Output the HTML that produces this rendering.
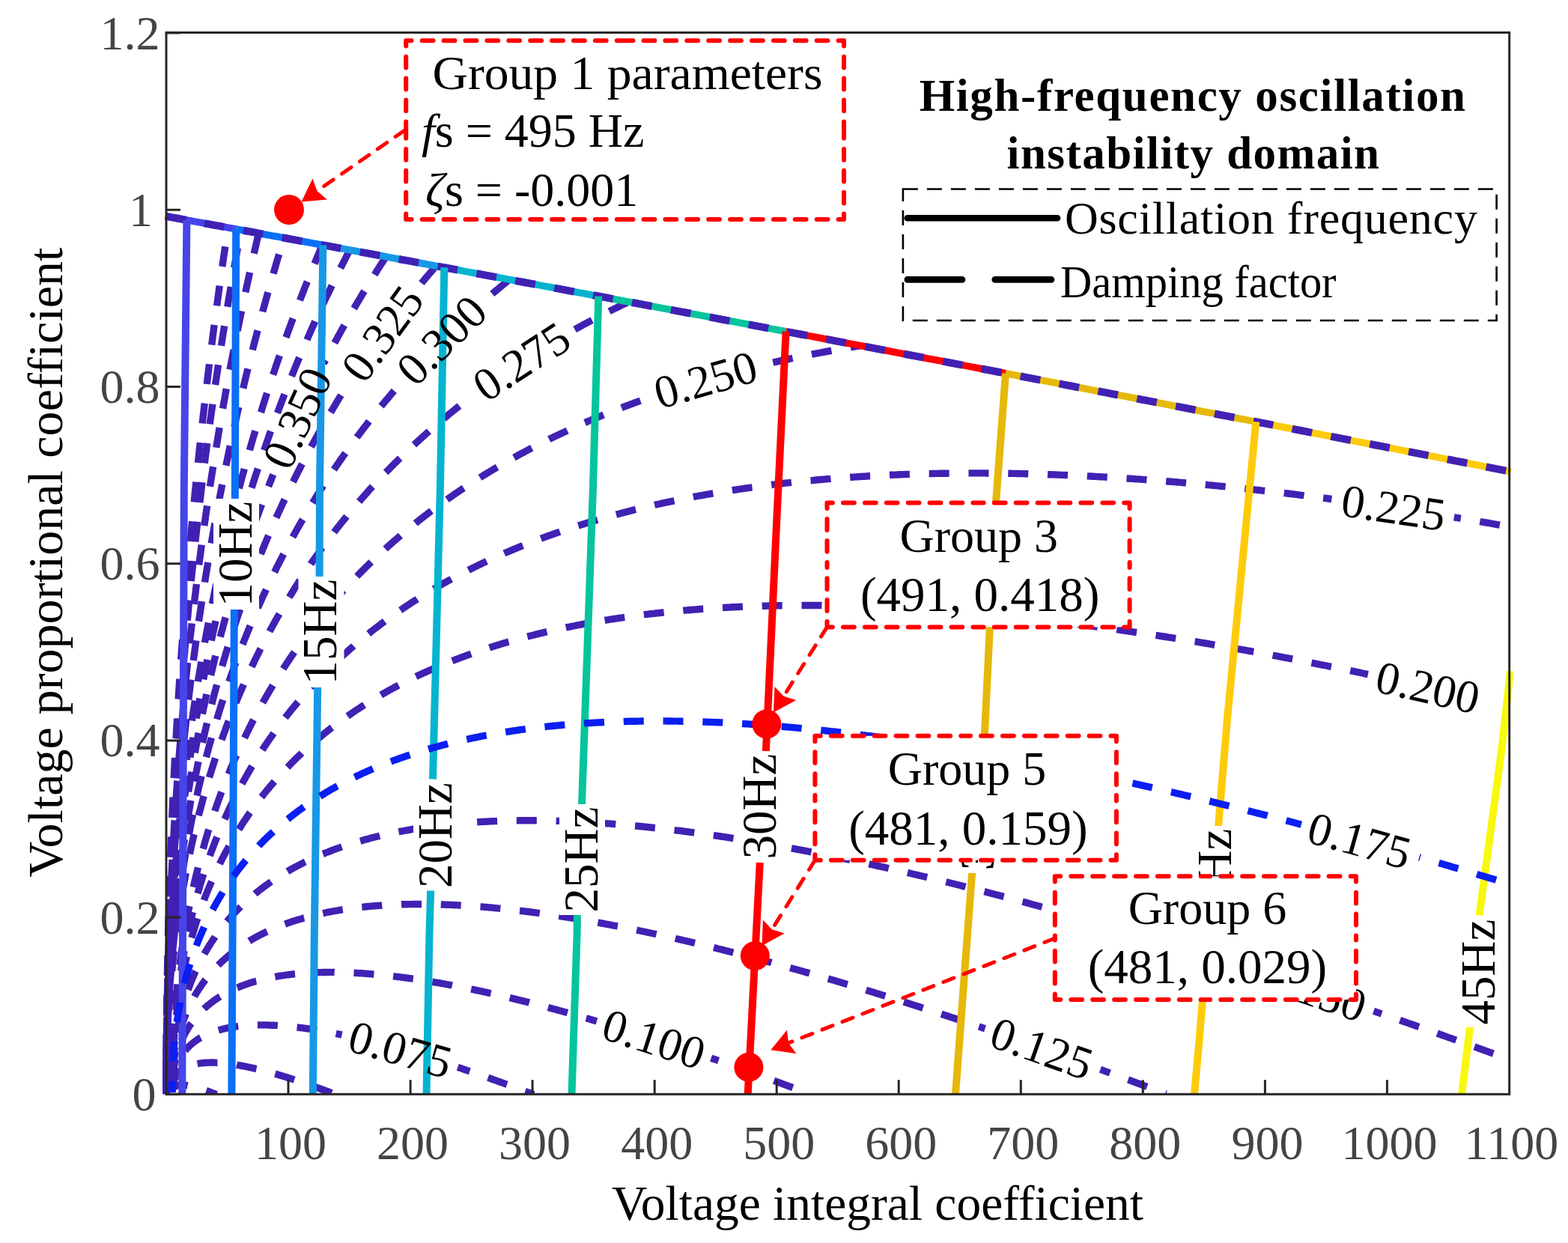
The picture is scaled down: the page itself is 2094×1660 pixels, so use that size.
<!DOCTYPE html>
<html><head><meta charset="utf-8"><title>Oscillation domain</title><style>html,body{margin:0;padding:0;background:#fff;}svg{display:block;}</style></head><body>
<svg width="2094" height="1660" viewBox="0 0 2094 1660">
<rect width="2094" height="1660" fill="#fff"/>
<defs><clipPath id="ax"><rect x="217.0" y="43" width="1803.7" height="1418.3"/></clipPath></defs>
<g clip-path="url(#ax)">
<g fill="none" stroke="#4121b3" stroke-width="9.4" stroke-dasharray="27 25.8">
<path d="M229.7 1459.1L229.7 1458.8L229.7 1458.5L229.7 1458.3L229.7 1458L229.7 1457.8L229.7 1457.6L229.8 1457.3L229.8 1457.1L229.8 1456.9L229.9 1456.6L229.9 1456.4L230 1456.2L230 1456L230.1 1455.8L230.2 1455.5L230.2 1455.3L230.3 1455.1L230.4 1454.9L230.5 1454.7L230.5 1454.5L230.6 1454.4L230.7 1454.2L230.8 1454L230.9 1453.8L231 1453.6L231.2 1453.5L231.3 1453.3L231.4 1453.1L231.5 1453L231.7 1452.8L231.8 1452.6L231.9 1452.5L232.1 1452.3L232.2 1452.2L232.4 1452L232.5 1451.9L232.7 1451.8L232.9 1451.6L233 1451.5L233.2 1451.4L233.4 1451.3L233.6 1451.1L233.8 1451L234 1450.9L234.1 1450.8L234.3 1450.7L234.6 1450.6L234.8 1450.5L235 1450.4L235.2 1450.3L235.4 1450.2L235.7 1450.1L235.9 1450L236.1 1450L236.4 1449.9L236.6 1449.8L236.9 1449.7L237.1 1449.7L237.4 1449.6L237.6 1449.5L237.9 1449.5L238.2 1449.4L238.5 1449.4L238.7 1449.3L239 1449.3L239.3 1449.3L239.6 1449.2L239.9 1449.2L240.2 1449.2L240.5 1449.1L240.8 1449.1L241.1 1449.1L241.5 1449.1L241.8 1449.1L242.1 1449.1L242.5 1449.1L242.8 1449L243.1 1449.1L243.5 1449.1L243.8 1449.1L244.2 1449.1L244.6 1449.1L244.9 1449.1L245.3 1449.1L245.7 1449.1L246 1449.2L246.4 1449.2L246.8 1449.2L247.2 1449.3L247.6 1449.3L248 1449.4L248.4 1449.4L248.8 1449.5L249.2 1449.5L249.7 1449.6L250.1 1449.6L250.5 1449.7L250.9 1449.8L251.4 1449.8L251.8 1449.9L252.3 1450L252.7 1450.1L253.2 1450.2L253.6 1450.2L254.1 1450.3L254.6 1450.4L255 1450.5L255.5 1450.6L256 1450.7L256.5 1450.8L257 1451L257.5 1451.1L258 1451.2L258.5 1451.3L259 1451.4L259.5 1451.6L260 1451.7L260.5 1451.8L261 1452L261.6 1452.1L262.1 1452.3L262.6 1452.4L263.2 1452.6L263.7 1452.7L264.3 1452.9L264.8 1453L265.4 1453.2L266 1453.4L266.5 1453.5L267.1 1453.7L267.7 1453.9L268.3 1454.1L268.9 1454.3L269.5 1454.4L270 1454.6L270.6 1454.8L271.3 1455L271.9 1455.2L272.5 1455.4L273.1 1455.6L273.7 1455.9L274.3 1456.1L275 1456.3L275.6 1456.5L276.3 1456.7L276.9 1457L277.5 1457.2L278.2 1457.4L278.9 1457.7L279.5 1457.9L280.2 1458.2L280.9 1458.4L281.5 1458.7L282.2 1458.9L282.9 1459.2L283.6 1459.4L284.3 1459.7L285 1460L285.7 1460.2L286.4 1460.5L287.1 1460.8L287.8 1461.1L288.5 1461.4L289.3 1461.7" stroke-dashoffset="0"/>
<path d="M229.7 1459.1L229.7 1458.5L229.7 1458L229.7 1457.5L229.7 1457L229.7 1456.5L229.7 1456L229.8 1455.5L229.8 1455L229.8 1454.5L229.9 1454L229.9 1453.6L230 1453.1L230 1452.6L230.1 1452.1L230.2 1451.7L230.2 1451.2L230.3 1450.7L230.4 1450.3L230.5 1449.8L230.5 1449.4L230.6 1448.9L230.7 1448.5L230.8 1448L230.9 1447.6L231 1447.2L231.2 1446.7L231.3 1446.3L231.4 1445.9L231.5 1445.4L231.7 1445L231.8 1444.6L231.9 1444.2L232.1 1443.8L232.2 1443.4L232.4 1443L232.5 1442.6L232.7 1442.2L232.9 1441.8L233 1441.4L233.2 1441L233.4 1440.6L233.6 1440.3L233.8 1439.9L234 1439.5L234.1 1439.1L234.3 1438.8L234.6 1438.4L234.8 1438.1L235 1437.7L235.2 1437.3L235.4 1437L235.7 1436.6L235.9 1436.3L236.1 1436L236.4 1435.6L236.6 1435.3L236.9 1435L237.1 1434.6L237.4 1434.3L237.6 1434L237.9 1433.7L238.2 1433.4L238.5 1433.1L238.7 1432.8L239 1432.5L239.3 1432.2L239.6 1431.9L239.9 1431.6L240.2 1431.3L240.5 1431L240.8 1430.7L241.1 1430.4L241.5 1430.2L241.8 1429.9L242.1 1429.6L242.5 1429.4L242.8 1429.1L243.1 1428.8L243.5 1428.6L243.8 1428.3L244.2 1428.1L244.6 1427.8L244.9 1427.6L245.3 1427.4L245.7 1427.1L246 1426.9L246.4 1426.7L246.8 1426.4L247.2 1426.2L247.6 1426L248 1425.8L248.4 1425.6L248.8 1425.4L249.2 1425.2L249.7 1425L250.1 1424.8L250.5 1424.6L250.9 1424.4L251.4 1424.2L251.8 1424L252.3 1423.8L252.7 1423.6L253.2 1423.5L253.6 1423.3L254.1 1423.1L254.6 1423L255 1422.8L255.5 1422.6L256 1422.5L256.5 1422.3L257 1422.2L257.5 1422.1L258 1421.9L258.5 1421.8L259 1421.6L259.5 1421.5L260 1421.4L260.5 1421.3L261 1421.1L261.6 1421L262.1 1420.9L262.6 1420.8L263.2 1420.7L263.7 1420.6L264.3 1420.5L264.8 1420.4L265.4 1420.3L266 1420.2L266.5 1420.1L267.1 1420L267.7 1419.9L268.3 1419.9L268.9 1419.8L269.5 1419.7L270 1419.7L270.6 1419.6L271.3 1419.5L271.9 1419.5L272.5 1419.4L273.1 1419.4L273.7 1419.3L274.3 1419.3L275 1419.2L275.6 1419.2L276.3 1419.2L276.9 1419.1L277.5 1419.1L278.2 1419.1L278.9 1419.1L279.5 1419.1L280.2 1419L280.9 1419L281.5 1419L282.2 1419L282.9 1419L283.6 1419L284.3 1419L285 1419L285.7 1419.1L286.4 1419.1L287.1 1419.1L287.8 1419.1L288.5 1419.1L289.3 1419.2L290 1419.2L290.7 1419.2L291.5 1419.3L292.2 1419.3L293 1419.4L293.7 1419.4L294.5 1419.5L295.2 1419.5L296 1419.6L296.8 1419.7L297.5 1419.7L298.3 1419.8L299.1 1419.9L299.9 1419.9L300.7 1420L301.5 1420.1L302.3 1420.2L303.1 1420.3L303.9 1420.4L304.7 1420.5L305.5 1420.6L306.3 1420.7L307.1 1420.8L308 1420.9L308.8 1421L309.7 1421.1L310.5 1421.2L311.3 1421.4L312.2 1421.5L313.1 1421.6L313.9 1421.8L314.8 1421.9L315.7 1422L316.5 1422.2L317.4 1422.3L318.3 1422.5L319.2 1422.6L320.1 1422.8L321 1423L321.9 1423.1L322.8 1423.3L323.7 1423.5L324.6 1423.6L325.5 1423.8L326.5 1424L327.4 1424.2L328.3 1424.4L329.3 1424.6L330.2 1424.8L331.1 1425L332.1 1425.2L333 1425.4L334 1425.6L335 1425.8L335.9 1426L336.9 1426.2L337.9 1426.4L338.9 1426.7L339.9 1426.9L340.8 1427.1L341.8 1427.4L342.8 1427.6L343.8 1427.8L344.9 1428.1L345.9 1428.3L346.9 1428.6L347.9 1428.8L348.9 1429.1L350 1429.4L351 1429.6L352 1429.9L353.1 1430.2L354.1 1430.4L355.2 1430.7L356.2 1431L357.3 1431.3L358.4 1431.6L359.4 1431.9L360.5 1432.2L361.6 1432.5L362.7 1432.8L363.8 1433.1L364.9 1433.4L366 1433.7L367.1 1434L368.2 1434.3L369.3 1434.6L370.4 1435L371.5 1435.3L372.6 1435.6L373.8 1436L374.9 1436.3L376 1436.6L377.2 1437L378.3 1437.3L379.5 1437.7L380.6 1438L381.8 1438.4L382.9 1438.8L384.1 1439.1L385.3 1439.5L386.5 1439.9L387.6 1440.2L388.8 1440.6L390 1441L391.2 1441.4L392.4 1441.8L393.6 1442.2L394.8 1442.6L396 1443L397.2 1443.4L398.5 1443.8L399.7 1444.2L400.9 1444.6L402.2 1445L403.4 1445.4L404.6 1445.8L405.9 1446.3L407.1 1446.7L408.4 1447.1L409.7 1447.6L410.9 1448L412.2 1448.5L413.5 1448.9L414.7 1449.3L416 1449.8L417.3 1450.3L418.6 1450.7L419.9 1451.2L421.2 1451.6L422.5 1452.1L423.8 1452.6L425.1 1453.1L426.4 1453.5L427.8 1454L429.1 1454.5L430.4 1455L431.8 1455.5L433.1 1456L434.4 1456.5L435.8 1457L437.2 1457.5L438.5 1458L439.9 1458.5L441.2 1459L442.6 1459.5L444 1460.1L445.4 1460.6L446.8 1461.1L448.1 1461.7" stroke-dashoffset="48.7"/>
<path d="M229.7 1459.1L229.7 1458.3L229.7 1457.5L229.7 1456.7L229.7 1456L229.7 1455.2L229.7 1454.5L229.8 1453.7L229.8 1452.9L229.8 1452.2L229.9 1451.5L229.9 1450.7L230 1450L230 1449.2L230.1 1448.5L230.2 1447.8L230.2 1447.1L230.3 1446.3L230.4 1445.6L230.5 1444.9L230.5 1444.2L230.6 1443.5L230.7 1442.8L230.8 1442.1L230.9 1441.4L231 1440.7L231.2 1440L231.3 1439.3L231.4 1438.6L231.5 1437.9L231.7 1437.3L231.8 1436.6L231.9 1435.9L232.1 1435.2L232.2 1434.6L232.4 1433.9L232.5 1433.3L232.7 1432.6L232.9 1431.9L233 1431.3L233.2 1430.7L233.4 1430L233.6 1429.4L233.8 1428.7L234 1428.1L234.1 1427.5L234.3 1426.9L234.6 1426.2L234.8 1425.6L235 1425L235.2 1424.4L235.4 1423.8L235.7 1423.2L235.9 1422.6L236.1 1422L236.4 1421.4L236.6 1420.8L236.9 1420.2L237.1 1419.6L237.4 1419L237.6 1418.5L237.9 1417.9L238.2 1417.3L238.5 1416.7L238.7 1416.2L239 1415.6L239.3 1415.1L239.6 1414.5L239.9 1413.9L240.2 1413.4L240.5 1412.9L240.8 1412.3L241.1 1411.8L241.5 1411.2L241.8 1410.7L242.1 1410.2L242.5 1409.7L242.8 1409.1L243.1 1408.6L243.5 1408.1L243.8 1407.6L244.2 1407.1L244.6 1406.6L244.9 1406.1L245.3 1405.6L245.7 1405.1L246 1404.6L246.4 1404.1L246.8 1403.6L247.2 1403.1L247.6 1402.7L248 1402.2L248.4 1401.7L248.8 1401.2L249.2 1400.8L249.7 1400.3L250.1 1399.9L250.5 1399.4L250.9 1399L251.4 1398.5L251.8 1398.1L252.3 1397.6L252.7 1397.2L253.2 1396.7L253.6 1396.3L254.1 1395.9L254.6 1395.5L255 1395L255.5 1394.6L256 1394.2L256.5 1393.8L257 1393.4L257.5 1393L258 1392.6L258.5 1392.2L259 1391.8L259.5 1391.4L260 1391L260.5 1390.6L261 1390.3L261.6 1389.9L262.1 1389.5L262.6 1389.1L263.2 1388.8L263.7 1388.4L264.3 1388L264.8 1387.7L265.4 1387.3L266 1387L266.5 1386.6L267.1 1386.3L267.7 1385.9L268.3 1385.6L268.9 1385.3L269.5 1384.9L270 1384.6L270.6 1384.3L271.3 1384L271.9 1383.7L272.5 1383.3L273.1 1383L273.7 1382.7L274.3 1382.4L275 1382.1L275.6 1381.8L276.3 1381.5L276.9 1381.2L277.5 1381L278.2 1380.7L278.9 1380.4L279.5 1380.1L280.2 1379.8L280.9 1379.6L281.5 1379.3L282.2 1379L282.9 1378.8L283.6 1378.5L284.3 1378.3L285 1378L285.7 1377.8L286.4 1377.5L287.1 1377.3L287.8 1377.1L288.5 1376.8L289.3 1376.6L290 1376.4L290.7 1376.1L291.5 1375.9L292.2 1375.7L293 1375.5L293.7 1375.3L294.5 1375.1L295.2 1374.9L296 1374.7L296.8 1374.5L297.5 1374.3L298.3 1374.1L299.1 1373.9L299.9 1373.7L300.7 1373.5L301.5 1373.4L302.3 1373.2L303.1 1373L303.9 1372.9L304.7 1372.7L305.5 1372.5L306.3 1372.4L307.1 1372.2L308 1372.1L308.8 1371.9L309.7 1371.8L310.5 1371.7L311.3 1371.5L312.2 1371.4L313.1 1371.3L313.9 1371.1L314.8 1371L315.7 1370.9L316.5 1370.8L317.4 1370.7L318.3 1370.6L319.2 1370.5L320.1 1370.4L321 1370.3L321.9 1370.2L322.8 1370.1L323.7 1370L324.6 1369.9L325.5 1369.8L326.5 1369.7L327.4 1369.7L328.3 1369.6L329.3 1369.5L330.2 1369.5L331.1 1369.4L332.1 1369.3L333 1369.3L334 1369.2L335 1369.2L335.9 1369.1L336.9 1369.1L337.9 1369.1L338.9 1369L339.9 1369L340.8 1369L341.8 1368.9L342.8 1368.9L343.8 1368.9L344.9 1368.9L345.9 1368.9L346.9 1368.9L347.9 1368.9L348.9 1368.9L350 1368.9L351 1368.9L352 1368.9L353.1 1368.9L354.1 1368.9L355.2 1368.9L356.2 1368.9L357.3 1369L358.4 1369L359.4 1369L360.5 1369.1L361.6 1369.1L362.7 1369.2L363.8 1369.2L364.9 1369.2L366 1369.3L367.1 1369.4L368.2 1369.4L369.3 1369.5L370.4 1369.5L371.5 1369.6L372.6 1369.7L373.8 1369.8L374.9 1369.8L376 1369.9L377.2 1370L378.3 1370.1L379.5 1370.2L380.6 1370.3L381.8 1370.4L382.9 1370.5L384.1 1370.6L385.3 1370.7L386.5 1370.8L387.6 1370.9L388.8 1371.1L390 1371.2L391.2 1371.3L392.4 1371.4L393.6 1371.6L394.8 1371.7L396 1371.9L397.2 1372L398.5 1372.1L399.7 1372.3L400.9 1372.5L402.2 1372.6L403.4 1372.8L404.6 1372.9L405.9 1373.1L407.1 1373.3L408.4 1373.4L409.7 1373.6L410.9 1373.8L412.2 1374L413.5 1374.2L414.7 1374.4L416 1374.6L417.3 1374.8L418.6 1375L419.9 1375.2L421.2 1375.4L422.5 1375.6L423.8 1375.8L425.1 1376L426.4 1376.2L427.8 1376.5L429.1 1376.7L430.4 1376.9L431.8 1377.2L433.1 1377.4L434.4 1377.6L435.8 1377.9L437.2 1378.1L438.5 1378.4L439.9 1378.6L441.2 1378.9L442.6 1379.2L444 1379.4L445.4 1379.7L446.8 1380L448.1 1380.2L449.5 1380.5L450.9 1380.8L452.3 1381.1L453.7 1381.4L455.2 1381.7L456.6 1382" stroke-dashoffset="45.3"/>
<path d="M611.3 1425.3L613.1 1425.9L615 1426.5L616.8 1427.1L618.7 1427.8L620.6 1428.4L622.4 1429L624.3 1429.7L626.2 1430.3L628 1430.9L629.9 1431.6L631.8 1432.2L633.7 1432.9L635.6 1433.5L637.5 1434.2L639.4 1434.9L641.3 1435.5L643.2 1436.2L645.1 1436.9L647 1437.5L649 1438.2L650.9 1438.9L652.8 1439.6L654.8 1440.3L656.7 1441L658.7 1441.7L660.6 1442.4L662.6 1443.1L664.5 1443.8L666.5 1444.5L668.5 1445.2L670.4 1445.9L672.4 1446.6L674.4 1447.4L676.4 1448.1L678.4 1448.8L680.4 1449.6L682.4 1450.3L684.4 1451L686.4 1451.8L688.4 1452.5L690.4 1453.3L692.5 1454L694.5 1454.8L696.5 1455.5L698.6 1456.3L700.6 1457.1L702.6 1457.8L704.7 1458.6L706.7 1459.4L708.8 1460.2L710.9 1461L712.9 1461.7" stroke-dashoffset="10.1"/>
<path d="M229.7 1459.1L229.7 1458L229.7 1457L229.7 1456L229.7 1454.9L229.7 1453.9L229.7 1452.9L229.8 1451.9L229.8 1450.9L229.8 1449.9L229.9 1448.9L229.9 1447.9L230 1446.9L230 1445.9L230.1 1444.9L230.2 1443.9L230.2 1442.9L230.3 1441.9L230.4 1440.9L230.5 1440L230.5 1439L230.6 1438L230.7 1437.1L230.8 1436.1L230.9 1435.2L231 1434.2L231.2 1433.2L231.3 1432.3L231.4 1431.4L231.5 1430.4L231.7 1429.5L231.8 1428.5L231.9 1427.6L232.1 1426.7L232.2 1425.8L232.4 1424.8L232.5 1423.9L232.7 1423L232.9 1422.1L233 1421.2L233.2 1420.3L233.4 1419.4L233.6 1418.5L233.8 1417.6L234 1416.7L234.1 1415.8L234.3 1414.9L234.6 1414L234.8 1413.2L235 1412.3L235.2 1411.4L235.4 1410.5L235.7 1409.7L235.9 1408.8L236.1 1408L236.4 1407.1L236.6 1406.3L236.9 1405.4L237.1 1404.6L237.4 1403.7L237.6 1402.9L237.9 1402L238.2 1401.2L238.5 1400.4L238.7 1399.6L239 1398.7L239.3 1397.9L239.6 1397.1L239.9 1396.3L240.2 1395.5L240.5 1394.7L240.8 1393.9L241.1 1393.1L241.5 1392.3L241.8 1391.5L242.1 1390.7L242.5 1389.9L242.8 1389.1L243.1 1388.4L243.5 1387.6L243.8 1386.8L244.2 1386L244.6 1385.3L244.9 1384.5L245.3 1383.8L245.7 1383L246 1382.3L246.4 1381.5L246.8 1380.8L247.2 1380L247.6 1379.3L248 1378.5L248.4 1377.8L248.8 1377.1L249.2 1376.4L249.7 1375.6L250.1 1374.9L250.5 1374.2L250.9 1373.5L251.4 1372.8L251.8 1372.1L252.3 1371.4L252.7 1370.7L253.2 1370L253.6 1369.3L254.1 1368.6L254.6 1367.9L255 1367.2L255.5 1366.6L256 1365.9L256.5 1365.2L257 1364.5L257.5 1363.9L258 1363.2L258.5 1362.6L259 1361.9L259.5 1361.3L260 1360.6L260.5 1360L261 1359.3L261.6 1358.7L262.1 1358L262.6 1357.4L263.2 1356.8L263.7 1356.2L264.3 1355.5L264.8 1354.9L265.4 1354.3L266 1353.7L266.5 1353.1L267.1 1352.5L267.7 1351.9L268.3 1351.3L268.9 1350.7L269.5 1350.1L270 1349.5L270.6 1348.9L271.3 1348.3L271.9 1347.8L272.5 1347.2L273.1 1346.6L273.7 1346.1L274.3 1345.5L275 1344.9L275.6 1344.4L276.3 1343.8L276.9 1343.3L277.5 1342.7L278.2 1342.2L278.9 1341.6L279.5 1341.1L280.2 1340.6L280.9 1340L281.5 1339.5L282.2 1339L282.9 1338.5L283.6 1337.9L284.3 1337.4L285 1336.9L285.7 1336.4L286.4 1335.9L287.1 1335.4L287.8 1334.9L288.5 1334.4L289.3 1333.9L290 1333.4L290.7 1332.9L291.5 1332.5L292.2 1332L293 1331.5L293.7 1331L294.5 1330.6L295.2 1330.1L296 1329.7L296.8 1329.2L297.5 1328.7L298.3 1328.3L299.1 1327.8L299.9 1327.4L300.7 1327L301.5 1326.5L302.3 1326.1L303.1 1325.7L303.9 1325.2L304.7 1324.8L305.5 1324.4L306.3 1324L307.1 1323.6L308 1323.1L308.8 1322.7L309.7 1322.3L310.5 1321.9L311.3 1321.5L312.2 1321.2L313.1 1320.8L313.9 1320.4L314.8 1320L315.7 1319.6L316.5 1319.2L317.4 1318.9L318.3 1318.5L319.2 1318.1L320.1 1317.8L321 1317.4L321.9 1317L322.8 1316.7L323.7 1316.3L324.6 1316L325.5 1315.7L326.5 1315.3L327.4 1315L328.3 1314.6L329.3 1314.3L330.2 1314L331.1 1313.7L332.1 1313.4L333 1313L334 1312.7L335 1312.4L335.9 1312.1L336.9 1311.8L337.9 1311.5L338.9 1311.2L339.9 1310.9L340.8 1310.6L341.8 1310.3L342.8 1310.1L343.8 1309.8L344.9 1309.5L345.9 1309.2L346.9 1309L347.9 1308.7L348.9 1308.4L350 1308.2L351 1307.9L352 1307.7L353.1 1307.4L354.1 1307.2L355.2 1306.9L356.2 1306.7L357.3 1306.5L358.4 1306.2L359.4 1306L360.5 1305.8L361.6 1305.6L362.7 1305.3L363.8 1305.1L364.9 1304.9L366 1304.7L367.1 1304.5L368.2 1304.3L369.3 1304.1L370.4 1303.9L371.5 1303.7L372.6 1303.5L373.8 1303.4L374.9 1303.2L376 1303L377.2 1302.8L378.3 1302.7L379.5 1302.5L380.6 1302.3L381.8 1302.2L382.9 1302L384.1 1301.8L385.3 1301.7L386.5 1301.6L387.6 1301.4L388.8 1301.3L390 1301.1L391.2 1301L392.4 1300.9L393.6 1300.7L394.8 1300.6L396 1300.5L397.2 1300.4L398.5 1300.3L399.7 1300.2L400.9 1300.1L402.2 1299.9L403.4 1299.8L404.6 1299.8L405.9 1299.7L407.1 1299.6L408.4 1299.5L409.7 1299.4L410.9 1299.3L412.2 1299.2L413.5 1299.2L414.7 1299.1L416 1299L417.3 1299L418.6 1298.9L419.9 1298.9L421.2 1298.8L422.5 1298.8L423.8 1298.7L425.1 1298.7L426.4 1298.6L427.8 1298.6L429.1 1298.6L430.4 1298.5L431.8 1298.5L433.1 1298.5L434.4 1298.5L435.8 1298.5L437.2 1298.4L438.5 1298.4L439.9 1298.4L441.2 1298.4L442.6 1298.4L444 1298.4L445.4 1298.4L446.8 1298.5L448.1 1298.5L449.5 1298.5L450.9 1298.5L452.3 1298.5L453.7 1298.6L455.2 1298.6L456.6 1298.6L458 1298.7L459.4 1298.7L460.8 1298.8L462.3 1298.8L463.7 1298.9L465.2 1298.9L466.6 1299L468.1 1299L469.5 1299.1L471 1299.2L472.4 1299.2L473.9 1299.3L475.4 1299.4L476.9 1299.5L478.3 1299.6L479.8 1299.7L481.3 1299.7L482.8 1299.8L484.3 1299.9L485.8 1300L487.3 1300.1L488.8 1300.3L490.4 1300.4L491.9 1300.5L493.4 1300.6L494.9 1300.7L496.5 1300.9L498 1301L499.6 1301.1L501.1 1301.3L502.7 1301.4L504.2 1301.5L505.8 1301.7L507.4 1301.8L508.9 1302L510.5 1302.1L512.1 1302.3L513.7 1302.5L515.3 1302.6L516.8 1302.8L518.4 1303L520 1303.2L521.7 1303.3L523.3 1303.5L524.9 1303.7L526.5 1303.9L528.1 1304.1L529.8 1304.3L531.4 1304.5L533 1304.7L534.7 1304.9L536.3 1305.1L538 1305.3L539.6 1305.5L541.3 1305.8L542.9 1306L544.6 1306.2L546.3 1306.5L548 1306.7L549.6 1306.9L551.3 1307.2L553 1307.4L554.7 1307.7L556.4 1307.9L558.1 1308.2L559.8 1308.4L561.5 1308.7L563.3 1308.9L565 1309.2L566.7 1309.5L568.4 1309.8L570.2 1310L571.9 1310.3L573.7 1310.6L575.4 1310.9L577.2 1311.2L578.9 1311.5L580.7 1311.8L582.4 1312.1L584.2 1312.4L586 1312.7L587.8 1313L589.6 1313.3L591.3 1313.6L593.1 1314L594.9 1314.3L596.7 1314.6L598.5 1315L600.3 1315.3L602.2 1315.6L604 1316L605.8 1316.3L607.6 1316.7L609.5 1317L611.3 1317.4L613.1 1317.7L615 1318.1L616.8 1318.5L618.7 1318.8L620.6 1319.2L622.4 1319.6L624.3 1320L626.2 1320.3L628 1320.7L629.9 1321.1L631.8 1321.5L633.7 1321.9L635.6 1322.3L637.5 1322.7L639.4 1323.1L641.3 1323.5L643.2 1323.9L645.1 1324.4L647 1324.8L649 1325.2L650.9 1325.6L652.8 1326.1L654.8 1326.5L656.7 1326.9L658.7 1327.4L660.6 1327.8L662.6 1328.3L664.5 1328.7L666.5 1329.2L668.5 1329.6L670.4 1330.1L672.4 1330.5L674.4 1331L676.4 1331.5L678.4 1331.9L680.4 1332.4L682.4 1332.9L684.4 1333.4L686.4 1333.9L688.4 1334.4L690.4 1334.9L692.5 1335.4L694.5 1335.9L696.5 1336.4L698.6 1336.9L700.6 1337.4L702.6 1337.9L704.7 1338.4L706.7 1338.9L708.8 1339.5L710.9 1340L712.9 1340.5L715 1341L717.1 1341.6L719.2 1342.1L721.2 1342.7L723.3 1343.2L725.4 1343.8L727.5 1344.3L729.6 1344.9L731.7 1345.4L733.9 1346L736 1346.6L738.1 1347.1L740.2 1347.7L742.3 1348.3L744.5 1348.9L746.6 1349.5L748.8 1350L750.9 1350.6L753.1 1351.2L755.2 1351.8L757.4 1352.4L759.5 1353L761.7 1353.6L763.9 1354.3L766.1 1354.9L768.2 1355.5L770.4 1356.1L772.6 1356.7L774.8 1357.4L777 1358L779.2 1358.6L781.4 1359.3L783.6 1359.9L785.9 1360.6L788.1 1361.2L790.3 1361.9L792.5 1362.5L794.8 1363.2L797 1363.8" stroke-dashoffset="34.9"/>
<path d="M949.6 1413.1L952.2 1414L954.7 1414.8L957.2 1415.7L959.8 1416.6L962.3 1417.5L964.9 1418.4L967.4 1419.3L970 1420.2L972.5 1421.1L975.1 1422L977.7 1422.9L980.3 1423.8L982.8 1424.8L985.4 1425.7L988 1426.6L990.6 1427.5L993.2 1428.5L995.8 1429.4L998.4 1430.3L1001 1431.3L1003.6 1432.2L1006.3 1433.2L1008.9 1434.1L1011.5 1435.1L1014.2 1436L1016.8 1437L1019.4 1438L1022.1 1438.9L1024.7 1439.9L1027.4 1440.9L1030.1 1441.8L1032.7 1442.8L1035.4 1443.8L1038.1 1444.8L1040.8 1445.8L1043.4 1446.8L1046.1 1447.8L1048.8 1448.8L1051.5 1449.8L1054.2 1450.8L1056.9 1451.8L1059.6 1452.8L1062.3 1453.8L1065.1 1454.9L1067.8 1455.9L1070.5 1456.9L1073.2 1457.9L1076 1459L1078.7 1460L1081.5 1461" stroke-dashoffset="16.5"/>
<path d="M229.7 1459.1L229.7 1457.8L229.7 1456.5L229.7 1455.2L229.7 1453.9L229.7 1452.6L229.7 1451.3L229.8 1450.1L229.8 1448.8L229.8 1447.5L229.9 1446.3L229.9 1445L230 1443.8L230 1442.5L230.1 1441.3L230.2 1440L230.2 1438.8L230.3 1437.5L230.4 1436.3L230.5 1435.1L230.5 1433.8L230.6 1432.6L230.7 1431.4L230.8 1430.2L230.9 1428.9L231 1427.7L231.2 1426.5L231.3 1425.3L231.4 1424.1L231.5 1422.9L231.7 1421.7L231.8 1420.5L231.9 1419.3L232.1 1418.1L232.2 1416.9L232.4 1415.8L232.5 1414.6L232.7 1413.4L232.9 1412.2L233 1411.1L233.2 1409.9L233.4 1408.7L233.6 1407.6L233.8 1406.4L234 1405.3L234.1 1404.1L234.3 1403L234.6 1401.8L234.8 1400.7L235 1399.6L235.2 1398.4L235.4 1397.3L235.7 1396.2L235.9 1395.1L236.1 1393.9L236.4 1392.8L236.6 1391.7L236.9 1390.6L237.1 1389.5L237.4 1388.4L237.6 1387.3L237.9 1386.2L238.2 1385.1L238.5 1384L238.7 1382.9L239 1381.9L239.3 1380.8L239.6 1379.7L239.9 1378.6L240.2 1377.6L240.5 1376.5L240.8 1375.4L241.1 1374.4L241.5 1373.3L241.8 1372.3L242.1 1371.2L242.5 1370.2L242.8 1369.1L243.1 1368.1L243.5 1367.1L243.8 1366L244.2 1365L244.6 1364L244.9 1362.9L245.3 1361.9L245.7 1360.9L246 1359.9L246.4 1358.9L246.8 1357.9L247.2 1356.9L247.6 1355.9L248 1354.9L248.4 1353.9L248.8 1352.9L249.2 1351.9L249.7 1350.9L250.1 1350L250.5 1349L250.9 1348L251.4 1347L251.8 1346.1L252.3 1345.1L252.7 1344.1L253.2 1343.2L253.6 1342.2L254.1 1341.3L254.6 1340.3L255 1339.4L255.5 1338.5L256 1337.5L256.5 1336.6L257 1335.7L257.5 1334.7L258 1333.8L258.5 1332.9L259 1332L259.5 1331.1L260 1330.1L260.5 1329.2L261 1328.3L261.6 1327.4L262.1 1326.5L262.6 1325.6L263.2 1324.8L263.7 1323.9L264.3 1323L264.8 1322.1L265.4 1321.2L266 1320.4L266.5 1319.5L267.1 1318.6L267.7 1317.8L268.3 1316.9L268.9 1316L269.5 1315.2L270 1314.3L270.6 1313.5L271.3 1312.7L271.9 1311.8L272.5 1311L273.1 1310.1L273.7 1309.3L274.3 1308.5L275 1307.7L275.6 1306.8L276.3 1306L276.9 1305.2L277.5 1304.4L278.2 1303.6L278.9 1302.8L279.5 1302L280.2 1301.2L280.9 1300.4L281.5 1299.6L282.2 1298.8L282.9 1298L283.6 1297.3L284.3 1296.5L285 1295.7L285.7 1295L286.4 1294.2L287.1 1293.4L287.8 1292.7L288.5 1291.9L289.3 1291.2L290 1290.4L290.7 1289.7L291.5 1288.9L292.2 1288.2L293 1287.4L293.7 1286.7L294.5 1286L295.2 1285.3L296 1284.5L296.8 1283.8L297.5 1283.1L298.3 1282.4L299.1 1281.7L299.9 1281L300.7 1280.3L301.5 1279.6L302.3 1278.9L303.1 1278.2L303.9 1277.5L304.7 1276.8L305.5 1276.1L306.3 1275.4L307.1 1274.8L308 1274.1L308.8 1273.4L309.7 1272.8L310.5 1272.1L311.3 1271.4L312.2 1270.8L313.1 1270.1L313.9 1269.5L314.8 1268.8L315.7 1268.2L316.5 1267.6L317.4 1266.9L318.3 1266.3L319.2 1265.7L320.1 1265L321 1264.4L321.9 1263.8L322.8 1263.2L323.7 1262.6L324.6 1262L325.5 1261.4L326.5 1260.8L327.4 1260.2L328.3 1259.6L329.3 1259L330.2 1258.4L331.1 1257.8L332.1 1257.2L333 1256.6L334 1256.1L335 1255.5L335.9 1254.9L336.9 1254.4L337.9 1253.8L338.9 1253.2L339.9 1252.7L340.8 1252.1L341.8 1251.6L342.8 1251L343.8 1250.5L344.9 1250L345.9 1249.4L346.9 1248.9L347.9 1248.4L348.9 1247.8L350 1247.3L351 1246.8L352 1246.3L353.1 1245.8L354.1 1245.3L355.2 1244.8L356.2 1244.3L357.3 1243.8L358.4 1243.3L359.4 1242.8L360.5 1242.3L361.6 1241.8L362.7 1241.3L363.8 1240.9L364.9 1240.4L366 1239.9L367.1 1239.4L368.2 1239L369.3 1238.5L370.4 1238.1L371.5 1237.6L372.6 1237.2L373.8 1236.7L374.9 1236.3L376 1235.8L377.2 1235.4L378.3 1235L379.5 1234.5L380.6 1234.1L381.8 1233.7L382.9 1233.3L384.1 1232.9L385.3 1232.4L386.5 1232L387.6 1231.6L388.8 1231.2L390 1230.8L391.2 1230.4L392.4 1230L393.6 1229.6L394.8 1229.3L396 1228.9L397.2 1228.5L398.5 1228.1L399.7 1227.8L400.9 1227.4L402.2 1227L403.4 1226.7L404.6 1226.3L405.9 1225.9L407.1 1225.6L408.4 1225.2L409.7 1224.9L410.9 1224.6L412.2 1224.2L413.5 1223.9L414.7 1223.5L416 1223.2L417.3 1222.9L418.6 1222.6L419.9 1222.3L421.2 1221.9L422.5 1221.6L423.8 1221.3L425.1 1221L426.4 1220.7L427.8 1220.4L429.1 1220.1L430.4 1219.8L431.8 1219.5L433.1 1219.3L434.4 1219L435.8 1218.7L437.2 1218.4L438.5 1218.2L439.9 1217.9L441.2 1217.6L442.6 1217.4L444 1217.1L445.4 1216.9L446.8 1216.6L448.1 1216.4L449.5 1216.1L450.9 1215.9L452.3 1215.6L453.7 1215.4L455.2 1215.2L456.6 1214.9L458 1214.7L459.4 1214.5L460.8 1214.3L462.3 1214.1L463.7 1213.9L465.2 1213.7L466.6 1213.5L468.1 1213.3L469.5 1213.1L471 1212.9L472.4 1212.7L473.9 1212.5L475.4 1212.3L476.9 1212.1L478.3 1212L479.8 1211.8L481.3 1211.6L482.8 1211.4L484.3 1211.3L485.8 1211.1L487.3 1211L488.8 1210.8L490.4 1210.7L491.9 1210.5L493.4 1210.4L494.9 1210.2L496.5 1210.1L498 1210L499.6 1209.9L501.1 1209.7L502.7 1209.6L504.2 1209.5L505.8 1209.4L507.4 1209.3L508.9 1209.2L510.5 1209L512.1 1208.9L513.7 1208.9L515.3 1208.8L516.8 1208.7L518.4 1208.6L520 1208.5L521.7 1208.4L523.3 1208.3L524.9 1208.3L526.5 1208.2L528.1 1208.1L529.8 1208.1L531.4 1208L533 1207.9L534.7 1207.9L536.3 1207.8L538 1207.8L539.6 1207.7L541.3 1207.7L542.9 1207.7L544.6 1207.6L546.3 1207.6L548 1207.6L549.6 1207.6L551.3 1207.5L553 1207.5L554.7 1207.5L556.4 1207.5L558.1 1207.5L559.8 1207.5L561.5 1207.5L563.3 1207.5L565 1207.5L566.7 1207.5L568.4 1207.5L570.2 1207.5L571.9 1207.6L573.7 1207.6L575.4 1207.6L577.2 1207.7L578.9 1207.7L580.7 1207.7L582.4 1207.8L584.2 1207.8L586 1207.9L587.8 1207.9L589.6 1208L591.3 1208L593.1 1208.1L594.9 1208.2L596.7 1208.2L598.5 1208.3L600.3 1208.4L602.2 1208.4L604 1208.5L605.8 1208.6L607.6 1208.7L609.5 1208.8L611.3 1208.9L613.1 1209L615 1209.1L616.8 1209.2L618.7 1209.3L620.6 1209.4L622.4 1209.5L624.3 1209.7L626.2 1209.8L628 1209.9L629.9 1210L631.8 1210.2L633.7 1210.3L635.6 1210.4L637.5 1210.6L639.4 1210.7L641.3 1210.9L643.2 1211L645.1 1211.2L647 1211.4L649 1211.5L650.9 1211.7L652.8 1211.9L654.8 1212L656.7 1212.2L658.7 1212.4L660.6 1212.6L662.6 1212.8L664.5 1212.9L666.5 1213.1L668.5 1213.3L670.4 1213.5L672.4 1213.7L674.4 1213.9L676.4 1214.2L678.4 1214.4L680.4 1214.6L682.4 1214.8L684.4 1215L686.4 1215.3L688.4 1215.5L690.4 1215.7L692.5 1216L694.5 1216.2L696.5 1216.5L698.6 1216.7L700.6 1217L702.6 1217.2L704.7 1217.5L706.7 1217.7L708.8 1218L710.9 1218.3L712.9 1218.5L715 1218.8L717.1 1219.1L719.2 1219.4L721.2 1219.7L723.3 1219.9L725.4 1220.2L727.5 1220.5L729.6 1220.8L731.7 1221.1L733.9 1221.4L736 1221.8L738.1 1222.1L740.2 1222.4L742.3 1222.7L744.5 1223L746.6 1223.3L748.8 1223.7L750.9 1224L753.1 1224.3L755.2 1224.7L757.4 1225L759.5 1225.4L761.7 1225.7L763.9 1226.1L766.1 1226.4L768.2 1226.8L770.4 1227.2L772.6 1227.5L774.8 1227.9L777 1228.3L779.2 1228.6L781.4 1229L783.6 1229.4L785.9 1229.8L788.1 1230.2L790.3 1230.6L792.5 1231L794.8 1231.4L797 1231.8L799.3 1232.2L801.5 1232.6L803.8 1233L806 1233.4L808.3 1233.9L810.6 1234.3L812.8 1234.7L815.1 1235.1L817.4 1235.6L819.7 1236L822 1236.5L824.3 1236.9L826.6 1237.3L828.9 1237.8L831.2 1238.3L833.5 1238.7L835.8 1239.2L838.1 1239.6L840.4 1240.1L842.8 1240.6L845.1 1241L847.4 1241.5L849.8 1242L852.1 1242.5L854.5 1243L856.8 1243.5L859.2 1244L861.6 1244.5L863.9 1245L866.3 1245.5L868.7 1246L871.1 1246.5L873.4 1247L875.8 1247.5L878.2 1248.1L880.6 1248.6L883 1249.1L885.4 1249.6L887.9 1250.2L890.3 1250.7L892.7 1251.3L895.1 1251.8L897.5 1252.4L900 1252.9L902.4 1253.5L904.9 1254L907.3 1254.6L909.8 1255.1L912.2 1255.7L914.7 1256.3L917.2 1256.9L919.6 1257.4L922.1 1258L924.6 1258.6L927.1 1259.2L929.6 1259.8L932 1260.4L934.5 1261L937 1261.6L939.6 1262.2L942.1 1262.8L944.6 1263.4L947.1 1264L949.6 1264.7L952.2 1265.3L954.7 1265.9L957.2 1266.5L959.8 1267.2L962.3 1267.8L964.9 1268.4L967.4 1269.1L970 1269.7L972.5 1270.4L975.1 1271L977.7 1271.7L980.3 1272.4L982.8 1273L985.4 1273.7L988 1274.4L990.6 1275L993.2 1275.7L995.8 1276.4L998.4 1277.1L1001 1277.8L1003.6 1278.5L1006.3 1279.1L1008.9 1279.8L1011.5 1280.5L1014.2 1281.2L1016.8 1282L1019.4 1282.7L1022.1 1283.4L1024.7 1284.1L1027.4 1284.8L1030.1 1285.5L1032.7 1286.3L1035.4 1287L1038.1 1287.7L1040.8 1288.5L1043.4 1289.2L1046.1 1290L1048.8 1290.7L1051.5 1291.5L1054.2 1292.2L1056.9 1293L1059.6 1293.7L1062.3 1294.5L1065.1 1295.3L1067.8 1296L1070.5 1296.8L1073.2 1297.6L1076 1298.4L1078.7 1299.1L1081.5 1299.9L1084.2 1300.7L1087 1301.5L1089.7 1302.3L1092.5 1303.1L1095.3 1303.9L1098 1304.7L1100.8 1305.5L1103.6 1306.4L1106.4 1307.2L1109.2 1308L1112 1308.8L1114.8 1309.6L1117.6 1310.5L1120.4 1311.3L1123.2 1312.1L1126 1313L1128.8 1313.8L1131.6 1314.7L1134.5 1315.5L1137.3 1316.4L1140.2 1317.2L1143 1318.1L1145.8 1319L1148.7 1319.8L1151.5 1320.7L1154.4 1321.6L1157.3 1322.5L1160.1 1323.3L1163 1324.2L1165.9 1325.1L1168.8 1326L1171.7 1326.9L1174.6 1327.8L1177.5 1328.7L1180.4 1329.6L1183.3 1330.5L1186.2 1331.4L1189.1 1332.3L1192 1333.3L1194.9 1334.2L1197.9 1335.1L1200.8 1336L1203.7 1337L1206.7 1337.9L1209.6 1338.8L1212.6 1339.8L1215.5 1340.7L1218.5 1341.7L1221.4 1342.6L1224.4 1343.6L1227.4 1344.5L1230.3 1345.5L1233.3 1346.5L1236.3 1347.4L1239.3 1348.4L1242.3 1349.4L1245.3 1350.3L1248.3 1351.3L1251.3 1352.3L1254.3 1353.3L1257.3 1354.3L1260.4 1355.3L1263.4 1356.3L1266.4 1357.3L1269.4 1358.3L1272.5 1359.3L1275.5 1360.3L1278.6 1361.3L1281.6 1362.3L1284.7 1363.4L1287.7 1364.4L1290.8 1365.4L1293.9 1366.4L1296.9 1367.5L1300 1368.5L1303.1 1369.5L1306.2 1370.6L1309.3 1371.6L1312.4 1372.7L1315.5 1373.7" stroke-dashoffset="25.2"/>
<path d="M1469.5 1428.2L1472.8 1429.4L1476.1 1430.6L1479.5 1431.9L1482.8 1433.1L1486.1 1434.3L1489.5 1435.5L1492.8 1436.8L1496.2 1438L1499.5 1439.3L1502.9 1440.5L1506.2 1441.8L1509.6 1443L1513 1444.3L1516.3 1445.5L1519.7 1446.8L1523.1 1448L1526.5 1449.3L1529.9 1450.6L1533.3 1451.9L1536.7 1453.1L1540.1 1454.4L1543.5 1455.7L1546.9 1457L1550.3 1458.3L1553.8 1459.6L1557.2 1460.9" stroke-dashoffset="13.3"/>
<path d="M229.7 1459.1L229.7 1457.5L229.7 1456L229.7 1454.4L229.7 1452.9L229.7 1451.3L229.7 1449.8L229.8 1448.3L229.8 1446.7L229.8 1445.2L229.9 1443.7L229.9 1442.2L230 1440.6L230 1439.1L230.1 1437.6L230.2 1436.1L230.2 1434.6L230.3 1433.1L230.4 1431.6L230.5 1430.1L230.5 1428.6L230.6 1427.2L230.7 1425.7L230.8 1424.2L230.9 1422.7L231 1421.2L231.2 1419.8L231.3 1418.3L231.4 1416.8L231.5 1415.4L231.7 1413.9L231.8 1412.5L231.9 1411L232.1 1409.6L232.2 1408.1L232.4 1406.7L232.5 1405.2L232.7 1403.8L232.9 1402.4L233 1400.9L233.2 1399.5L233.4 1398.1L233.6 1396.7L233.8 1395.3L234 1393.9L234.1 1392.4L234.3 1391L234.6 1389.6L234.8 1388.2L235 1386.8L235.2 1385.5L235.4 1384.1L235.7 1382.7L235.9 1381.3L236.1 1379.9L236.4 1378.5L236.6 1377.2L236.9 1375.8L237.1 1374.4L237.4 1373.1L237.6 1371.7L237.9 1370.4L238.2 1369L238.5 1367.7L238.7 1366.3L239 1365L239.3 1363.6L239.6 1362.3L239.9 1361L240.2 1359.6L240.5 1358.3L240.8 1357L241.1 1355.7L241.5 1354.3L241.8 1353L242.1 1351.7L242.5 1350.4L242.8 1349.1L243.1 1347.8L243.5 1346.5L243.8 1345.2L244.2 1343.9L244.6 1342.6L244.9 1341.3L245.3 1340.1L245.7 1338.8L246 1337.5L246.4 1336.2L246.8 1335L247.2 1333.7L247.6 1332.4L248 1331.2L248.4 1329.9L248.8 1328.7L249.2 1327.4L249.7 1326.2L250.1 1325L250.5 1323.7L250.9 1322.5L251.4 1321.2L251.8 1320L252.3 1318.8L252.7 1317.6L253.2 1316.4L253.6 1315.1L254.1 1313.9L254.6 1312.7L255 1311.5L255.5 1310.3L256 1309.1L256.5 1307.9L257 1306.7L257.5 1305.5L258 1304.4L258.5 1303.2L259 1302L259.5 1300.8L260 1299.6L260.5 1298.5L261 1297.3L261.6 1296.1L262.1 1295L262.6 1293.8L263.2 1292.7L263.7 1291.5L264.3 1290.4L264.8 1289.2L265.4 1288.1L266 1287L266.5 1285.8L267.1 1284.7L267.7 1283.6L268.3 1282.5L268.9 1281.3L269.5 1280.2L270 1279.1L270.6 1278L271.3 1276.9L271.9 1275.8L272.5 1274.7L273.1 1273.6L273.7 1272.5L274.3 1271.4L275 1270.3L275.6 1269.2L276.3 1268.2L276.9 1267.1L277.5 1266L278.2 1265L278.9 1263.9L279.5 1262.8L280.2 1261.8L280.9 1260.7L281.5 1259.7L282.2 1258.6L282.9 1257.6L283.6 1256.5L284.3 1255.5L285 1254.4L285.7 1253.4L286.4 1252.4L287.1 1251.4L287.8 1250.3L288.5 1249.3L289.3 1248.3L290 1247.3L290.7 1246.3L291.5 1245.3L292.2 1244.3L293 1243.3L293.7 1242.3L294.5 1241.3L295.2 1240.3L296 1239.3L296.8 1238.3L297.5 1237.3L298.3 1236.4L299.1 1235.4L299.9 1234.4L300.7 1233.5L301.5 1232.5L302.3 1231.5L303.1 1230.6L303.9 1229.6L304.7 1228.7L305.5 1227.7L306.3 1226.8L307.1 1225.8L308 1224.9L308.8 1224L309.7 1223.1L310.5 1222.1L311.3 1221.2L312.2 1220.3L313.1 1219.4L313.9 1218.5L314.8 1217.5L315.7 1216.6L316.5 1215.7L317.4 1214.8L318.3 1213.9L319.2 1213.1L320.1 1212.2L321 1211.3L321.9 1210.4L322.8 1209.5L323.7 1208.6L324.6 1207.8L325.5 1206.9L326.5 1206L327.4 1205.2L328.3 1204.3L329.3 1203.5L330.2 1202.6L331.1 1201.8L332.1 1200.9L333 1200.1L334 1199.2L335 1198.4L335.9 1197.6L336.9 1196.7L337.9 1195.9L338.9 1195.1L339.9 1194.3L340.8 1193.5L341.8 1192.6L342.8 1191.8L343.8 1191L344.9 1190.2L345.9 1189.4L346.9 1188.6L347.9 1187.8L348.9 1187.1L350 1186.3L351 1185.5L352 1184.7L353.1 1183.9L354.1 1183.2L355.2 1182.4L356.2 1181.6L357.3 1180.9L358.4 1180.1L359.4 1179.4L360.5 1178.6L361.6 1177.9L362.7 1177.1L363.8 1176.4L364.9 1175.6L366 1174.9L367.1 1174.2L368.2 1173.4L369.3 1172.7L370.4 1172L371.5 1171.3L372.6 1170.6L373.8 1169.9L374.9 1169.1L376 1168.4L377.2 1167.7L378.3 1167L379.5 1166.4L380.6 1165.7L381.8 1165L382.9 1164.3L384.1 1163.6L385.3 1162.9L386.5 1162.3L387.6 1161.6L388.8 1160.9L390 1160.3L391.2 1159.6L392.4 1158.9L393.6 1158.3L394.8 1157.6L396 1157L397.2 1156.3L398.5 1155.7L399.7 1155.1L400.9 1154.4L402.2 1153.8L403.4 1153.2L404.6 1152.6L405.9 1151.9L407.1 1151.3L408.4 1150.7L409.7 1150.1L410.9 1149.5L412.2 1148.9L413.5 1148.3L414.7 1147.7L416 1147.1L417.3 1146.5L418.6 1145.9L419.9 1145.4L421.2 1144.8L422.5 1144.2L423.8 1143.6L425.1 1143.1L426.4 1142.5L427.8 1141.9L429.1 1141.4L430.4 1140.8L431.8 1140.3L433.1 1139.7L434.4 1139.2L435.8 1138.6L437.2 1138.1L438.5 1137.6L439.9 1137L441.2 1136.5L442.6 1136L444 1135.4L445.4 1134.9L446.8 1134.4L448.1 1133.9L449.5 1133.4L450.9 1132.9L452.3 1132.4L453.7 1131.9L455.2 1131.4L456.6 1130.9L458 1130.4L459.4 1129.9L460.8 1129.5L462.3 1129L463.7 1128.5L465.2 1128L466.6 1127.6L468.1 1127.1L469.5 1126.6L471 1126.2L472.4 1125.7L473.9 1125.3L475.4 1124.8L476.9 1124.4L478.3 1124L479.8 1123.5L481.3 1123.1L482.8 1122.7L484.3 1122.2L485.8 1121.8L487.3 1121.4L488.8 1121L490.4 1120.6L491.9 1120.2L493.4 1119.7L494.9 1119.3L496.5 1118.9L498 1118.5L499.6 1118.2L501.1 1117.8L502.7 1117.4L504.2 1117L505.8 1116.6L507.4 1116.2L508.9 1115.9L510.5 1115.5L512.1 1115.1L513.7 1114.8L515.3 1114.4L516.8 1114.1L518.4 1113.7L520 1113.4L521.7 1113L523.3 1112.7L524.9 1112.3L526.5 1112L528.1 1111.7L529.8 1111.4L531.4 1111L533 1110.7L534.7 1110.4L536.3 1110.1L538 1109.8L539.6 1109.5L541.3 1109.2L542.9 1108.9L544.6 1108.6L546.3 1108.3L548 1108L549.6 1107.7L551.3 1107.4L553 1107.1L554.7 1106.8L556.4 1106.6L558.1 1106.3L559.8 1106L561.5 1105.8L563.3 1105.5L565 1105.3L566.7 1105L568.4 1104.8L570.2 1104.5L571.9 1104.3L573.7 1104L575.4 1103.8L577.2 1103.6L578.9 1103.3L580.7 1103.1L582.4 1102.9L584.2 1102.7L586 1102.5L587.8 1102.2L589.6 1102L591.3 1101.8L593.1 1101.6L594.9 1101.4L596.7 1101.2L598.5 1101L600.3 1100.9L602.2 1100.7L604 1100.5L605.8 1100.3L607.6 1100.1L609.5 1100L611.3 1099.8L613.1 1099.6L615 1099.5L616.8 1099.3L618.7 1099.2L620.6 1099L622.4 1098.9L624.3 1098.7L626.2 1098.6L628 1098.4L629.9 1098.3L631.8 1098.2L633.7 1098.1L635.6 1097.9L637.5 1097.8L639.4 1097.7L641.3 1097.6L643.2 1097.5L645.1 1097.4L647 1097.3L649 1097.2L650.9 1097.1L652.8 1097L654.8 1096.9L656.7 1096.8L658.7 1096.7L660.6 1096.6L662.6 1096.6L664.5 1096.5L666.5 1096.4L668.5 1096.4L670.4 1096.3L672.4 1096.2L674.4 1096.2L676.4 1096.1L678.4 1096.1L680.4 1096L682.4 1096L684.4 1096L686.4 1095.9L688.4 1095.9L690.4 1095.9L692.5 1095.8L694.5 1095.8L696.5 1095.8L698.6 1095.8L700.6 1095.8L702.6 1095.8L704.7 1095.8L706.7 1095.8L708.8 1095.8L710.9 1095.8L712.9 1095.8L715 1095.8L717.1 1095.8L719.2 1095.8L721.2 1095.9L723.3 1095.9L725.4 1095.9L727.5 1096L729.6 1096L731.7 1096L733.9 1096.1L736 1096.1L738.1 1096.2L740.2 1096.2L742.3 1096.3L744.5 1096.4L746.6 1096.4L748.8 1096.5L750.9 1096.6L753.1 1096.6L755.2 1096.7L757.4 1096.8L759.5 1096.9L761.7 1097L763.9 1097.1L766.1 1097.2L768.2 1097.3L770.4 1097.4L772.6 1097.5L774.8 1097.6L777 1097.7L779.2 1097.8L781.4 1097.9L783.6 1098L785.9 1098.2L788.1 1098.3L790.3 1098.4L792.5 1098.6L794.8 1098.7L797 1098.8L799.3 1099L801.5 1099.1L803.8 1099.3L806 1099.5L808.3 1099.6L810.6 1099.8L812.8 1099.9L815.1 1100.1L817.4 1100.3L819.7 1100.5L822 1100.6L824.3 1100.8L826.6 1101L828.9 1101.2L831.2 1101.4L833.5 1101.6L835.8 1101.8L838.1 1102L840.4 1102.2L842.8 1102.4L845.1 1102.6L847.4 1102.9L849.8 1103.1L852.1 1103.3L854.5 1103.5L856.8 1103.8L859.2 1104L861.6 1104.2L863.9 1104.5L866.3 1104.7L868.7 1105L871.1 1105.2L873.4 1105.5L875.8 1105.7L878.2 1106L880.6 1106.3L883 1106.5L885.4 1106.8L887.9 1107.1L890.3 1107.4L892.7 1107.7L895.1 1107.9L897.5 1108.2L900 1108.5L902.4 1108.8L904.9 1109.1L907.3 1109.4L909.8 1109.7L912.2 1110L914.7 1110.4L917.2 1110.7L919.6 1111L922.1 1111.3L924.6 1111.6L927.1 1112L929.6 1112.3L932 1112.6L934.5 1113L937 1113.3L939.6 1113.7L942.1 1114L944.6 1114.4L947.1 1114.7L949.6 1115.1L952.2 1115.5L954.7 1115.8L957.2 1116.2L959.8 1116.6L962.3 1117L964.9 1117.3L967.4 1117.7L970 1118.1L972.5 1118.5L975.1 1118.9L977.7 1119.3L980.3 1119.7L982.8 1120.1L985.4 1120.5L988 1120.9L990.6 1121.3L993.2 1121.8L995.8 1122.2L998.4 1122.6L1001 1123L1003.6 1123.5L1006.3 1123.9L1008.9 1124.3L1011.5 1124.8L1014.2 1125.2L1016.8 1125.7L1019.4 1126.1L1022.1 1126.6L1024.7 1127.1L1027.4 1127.5L1030.1 1128L1032.7 1128.4L1035.4 1128.9L1038.1 1129.4L1040.8 1129.9L1043.4 1130.4L1046.1 1130.9L1048.8 1131.3L1051.5 1131.8L1054.2 1132.3L1056.9 1132.8L1059.6 1133.3L1062.3 1133.8L1065.1 1134.4L1067.8 1134.9L1070.5 1135.4L1073.2 1135.9L1076 1136.4L1078.7 1137L1081.5 1137.5L1084.2 1138L1087 1138.6L1089.7 1139.1L1092.5 1139.6L1095.3 1140.2L1098 1140.7L1100.8 1141.3L1103.6 1141.9L1106.4 1142.4L1109.2 1143L1112 1143.6L1114.8 1144.1L1117.6 1144.7L1120.4 1145.3L1123.2 1145.9L1126 1146.4L1128.8 1147L1131.6 1147.6L1134.5 1148.2L1137.3 1148.8L1140.2 1149.4L1143 1150L1145.8 1150.6L1148.7 1151.3L1151.5 1151.9L1154.4 1152.5L1157.3 1153.1L1160.1 1153.7L1163 1154.4L1165.9 1155L1168.8 1155.6L1171.7 1156.3L1174.6 1156.9L1177.5 1157.6L1180.4 1158.2L1183.3 1158.9L1186.2 1159.5L1189.1 1160.2L1192 1160.8L1194.9 1161.5L1197.9 1162.2L1200.8 1162.9L1203.7 1163.5L1206.7 1164.2L1209.6 1164.9L1212.6 1165.6L1215.5 1166.3L1218.5 1167L1221.4 1167.7L1224.4 1168.4L1227.4 1169.1L1230.3 1169.8L1233.3 1170.5L1236.3 1171.2L1239.3 1171.9L1242.3 1172.6L1245.3 1173.4L1248.3 1174.1L1251.3 1174.8L1254.3 1175.5L1257.3 1176.3L1260.4 1177L1263.4 1177.8L1266.4 1178.5L1269.4 1179.3L1272.5 1180L1275.5 1180.8L1278.6 1181.5L1281.6 1182.3L1284.7 1183.1L1287.7 1183.8L1290.8 1184.6L1293.9 1185.4L1296.9 1186.2L1300 1187L1303.1 1187.7L1306.2 1188.5L1309.3 1189.3L1312.4 1190.1L1315.5 1190.9L1318.6 1191.7L1321.7 1192.5L1324.8 1193.4L1327.9 1194.2L1331 1195L1334.2 1195.8L1337.3 1196.6L1340.4 1197.5L1343.6 1198.3L1346.7 1199.1L1349.9 1200L1353 1200.8L1356.2 1201.7L1359.3 1202.5L1362.5 1203.4L1365.7 1204.2L1368.9 1205.1L1372 1205.9L1375.2 1206.8L1378.4 1207.7L1381.6 1208.5L1384.8 1209.4L1388 1210.3L1391.2 1211.2L1394.4 1212.1L1397.6 1212.9L1400.9 1213.8L1404.1 1214.7L1407.3 1215.6L1410.5 1216.5L1413.8 1217.4L1417 1218.3L1420.3 1219.3L1423.5 1220.2L1426.8 1221.1L1430 1222L1433.3 1222.9L1436.6 1223.9L1439.8 1224.8L1443.1 1225.7L1446.4 1226.7L1449.7 1227.6L1453 1228.6L1456.3 1229.5L1459.6 1230.5L1462.9 1231.4L1466.2 1232.4L1469.5 1233.3L1472.8 1234.3L1476.1 1235.3L1479.5 1236.2L1482.8 1237.2L1486.1 1238.2L1489.5 1239.2L1492.8 1240.2L1496.2 1241.2L1499.5 1242.1L1502.9 1243.1L1506.2 1244.1L1509.6 1245.1L1513 1246.2L1516.3 1247.2L1519.7 1248.2L1523.1 1249.2L1526.5 1250.2L1529.9 1251.2L1533.3 1252.3L1536.7 1253.3L1540.1 1254.3L1543.5 1255.4L1546.9 1256.4L1550.3 1257.4L1553.8 1258.5L1557.2 1259.5L1560.6 1260.6L1564.1 1261.6L1567.5 1262.7L1570.9 1263.8L1574.4 1264.8L1577.8 1265.9L1581.3 1267L1584.8 1268L1588.2 1269.1L1591.7 1270.2L1595.2 1271.3L1598.7 1272.4L1602.1 1273.5L1605.6 1274.6L1609.1 1275.7L1612.6 1276.8L1616.1 1277.9L1619.6 1279L1623.2 1280.1L1626.7 1281.2L1630.2 1282.3L1633.7 1283.4L1637.3 1284.6L1640.8 1285.7L1644.3 1286.8L1647.9 1288L1651.4 1289.1L1655 1290.2L1658.5 1291.4L1662.1 1292.5L1665.6 1293.7L1669.2 1294.8L1672.8 1296L1676.4 1297.2L1680 1298.3" stroke-dashoffset="18.8"/>
<path d="M1834.5 1350.2L1838.2 1351.6L1842 1352.9L1845.8 1354.2L1849.6 1355.5L1853.4 1356.8L1857.2 1358.1L1861 1359.5L1864.8 1360.8L1868.6 1362.1L1872.4 1363.5L1876.2 1364.8L1880 1366.1L1883.9 1367.5L1887.7 1368.8L1891.5 1370.2L1895.4 1371.5L1899.2 1372.9L1903.1 1374.3L1906.9 1375.6L1910.8 1377L1914.6 1378.4L1918.5 1379.7L1922.4 1381.1L1926.2 1382.5L1930.1 1383.9L1934 1385.3L1937.9 1386.7L1941.8 1388.1L1945.7 1389.5L1949.6 1390.9L1953.5 1392.3L1957.4 1393.7L1961.3 1395.1L1965.2 1396.5L1969.2 1397.9L1973.1 1399.3L1977 1400.8L1981 1402.2L1984.9 1403.6L1988.9 1405.1L1992.8 1406.5L1996.8 1407.9L2000.7 1409.4L2004.7 1410.8L2008.7 1412.3L2012.6 1413.7" stroke-dashoffset="15.7"/>
<path d="M229.7 1459.1L229.7 1457L229.7 1454.9L229.7 1452.9L229.7 1450.8L229.7 1448.7L229.7 1446.7L229.8 1444.6L229.8 1442.6L229.8 1440.5L229.9 1438.5L229.9 1436.5L230 1434.4L230 1432.4L230.1 1430.4L230.2 1428.3L230.2 1426.3L230.3 1424.3L230.4 1422.3L230.5 1420.3L230.5 1418.3L230.6 1416.3L230.7 1414.3L230.8 1412.3L230.9 1410.3L231 1408.3L231.2 1406.3L231.3 1404.3L231.4 1402.3L231.5 1400.3L231.7 1398.3L231.8 1396.4L231.9 1394.4L232.1 1392.4L232.2 1390.5L232.4 1388.5L232.5 1386.5L232.7 1384.6L232.9 1382.6L233 1380.7L233.2 1378.7L233.4 1376.8L233.6 1374.9L233.8 1372.9L234 1371L234.1 1369.1L234.3 1367.1L234.6 1365.2L234.8 1363.3L235 1361.4L235.2 1359.5L235.4 1357.5L235.7 1355.6L235.9 1353.7L236.1 1351.8L236.4 1349.9L236.6 1348L236.9 1346.1L237.1 1344.3L237.4 1342.4L237.6 1340.5L237.9 1338.6L238.2 1336.7L238.5 1334.9L238.7 1333L239 1331.1L239.3 1329.3L239.6 1327.4L239.9 1325.5L240.2 1323.7L240.5 1321.8L240.8 1320L241.1 1318.1L241.5 1316.3L241.8 1314.5L242.1 1312.6L242.5 1310.8L242.8 1309L243.1 1307.2L243.5 1305.3L243.8 1303.5L244.2 1301.7L244.6 1299.9L244.9 1298.1L245.3 1296.3L245.7 1294.5L246 1292.7L246.4 1290.9L246.8 1289.1L247.2 1287.3L247.6 1285.5L248 1283.7L248.4 1281.9L248.8 1280.2L249.2 1278.4L249.7 1276.6L250.1 1274.9L250.5 1273.1L250.9 1271.3L251.4 1269.6L251.8 1267.8L252.3 1266.1L252.7 1264.3L253.2 1262.6L253.6 1260.8L254.1 1259.1L254.6 1257.4L255 1255.6L255.5 1253.9L256 1252.2L256.5 1250.5L257 1248.7L257.5 1247L258 1245.3L258.5 1243.6L259 1241.9L259.5 1240.2L260 1238.5L260.5 1236.8L261 1235.1L261.6 1233.4L262.1 1231.7L262.6 1230L263.2 1228.4L263.7 1226.7L264.3 1225L264.8 1223.3L265.4 1221.7L266 1220L266.5 1218.4L267.1 1216.7L267.7 1215L268.3 1213.4L268.9 1211.7L269.5 1210.1L270 1208.5L270.6 1206.8L271.3 1205.2L271.9 1203.6L272.5 1201.9L273.1 1200.3L273.7 1198.7L274.3 1197.1L275 1195.5L275.6 1193.8L276.3 1192.2L276.9 1190.6L277.5 1189L278.2 1187.4L278.9 1185.8L279.5 1184.2L280.2 1182.7L280.9 1181.1L281.5 1179.5L282.2 1177.9L282.9 1176.3L283.6 1174.8L284.3 1173.2L285 1171.6L285.7 1170.1L286.4 1168.5L287.1 1166.9L287.8 1165.4L288.5 1163.8L289.3 1162.3L290 1160.8L290.7 1159.2L291.5 1157.7L292.2 1156.1L293 1154.6L293.7 1153.1L294.5 1151.6L295.2 1150.1L296 1148.5L296.8 1147L297.5 1145.5L298.3 1144L299.1 1142.5L299.9 1141L300.7 1139.5L301.5 1138L302.3 1136.5L303.1 1135L303.9 1133.6L304.7 1132.1L305.5 1130.6L306.3 1129.1L307.1 1127.6L308 1126.2L308.8 1124.7L309.7 1123.3L310.5 1121.8L311.3 1120.3L312.2 1118.9L313.1 1117.4L313.9 1116L314.8 1114.6L315.7 1113.1L316.5 1111.7L317.4 1110.3L318.3 1108.8L319.2 1107.4L320.1 1106L321 1104.6L321.9 1103.2L322.8 1101.7L323.7 1100.3L324.6 1098.9L325.5 1097.5L326.5 1096.1L327.4 1094.7L328.3 1093.4L329.3 1092L330.2 1090.6L331.1 1089.2L332.1 1087.8L333 1086.4L334 1085.1L335 1083.7L335.9 1082.3L336.9 1081L337.9 1079.6L338.9 1078.3L339.9 1076.9L340.8 1075.6L341.8 1074.2L342.8 1072.9L343.8 1071.5L344.9 1070.2L345.9 1068.9L346.9 1067.6L347.9 1066.2L348.9 1064.9L350 1063.6L351 1062.3L352 1061L353.1 1059.7L354.1 1058.3L355.2 1057L356.2 1055.7L357.3 1054.5L358.4 1053.2L359.4 1051.9L360.5 1050.6L361.6 1049.3L362.7 1048L363.8 1046.8L364.9 1045.5L366 1044.2L367.1 1043L368.2 1041.7L369.3 1040.4L370.4 1039.2L371.5 1037.9L372.6 1036.7L373.8 1035.4L374.9 1034.2L376 1033L377.2 1031.7L378.3 1030.5L379.5 1029.3L380.6 1028L381.8 1026.8L382.9 1025.6L384.1 1024.4L385.3 1023.2L386.5 1022L387.6 1020.8L388.8 1019.6L390 1018.4L391.2 1017.2L392.4 1016L393.6 1014.8L394.8 1013.6L396 1012.4L397.2 1011.2L398.5 1010.1L399.7 1008.9L400.9 1007.7L402.2 1006.6L403.4 1005.4L404.6 1004.3L405.9 1003.1L407.1 1001.9L408.4 1000.8L409.7 999.7L410.9 998.5L412.2 997.4L413.5 996.2L414.7 995.1L416 994L417.3 992.9L418.6 991.7L419.9 990.6L421.2 989.5L422.5 988.4L423.8 987.3L425.1 986.2L426.4 985.1L427.8 984L429.1 982.9L430.4 981.8L431.8 980.7L433.1 979.6L434.4 978.6L435.8 977.5L437.2 976.4L438.5 975.3L439.9 974.3L441.2 973.2L442.6 972.1L444 971.1L445.4 970L446.8 969L448.1 967.9L449.5 966.9L450.9 965.9L452.3 964.8L453.7 963.8L455.2 962.8L456.6 961.7L458 960.7L459.4 959.7L460.8 958.7L462.3 957.7L463.7 956.7L465.2 955.7L466.6 954.6L468.1 953.7L469.5 952.7L471 951.7L472.4 950.7L473.9 949.7L475.4 948.7L476.9 947.7L478.3 946.8L479.8 945.8L481.3 944.8L482.8 943.8L484.3 942.9L485.8 941.9L487.3 941L488.8 940L490.4 939.1L491.9 938.1L493.4 937.2L494.9 936.2L496.5 935.3L498 934.4L499.6 933.5L501.1 932.5L502.7 931.6L504.2 930.7L505.8 929.8L507.4 928.9L508.9 928L510.5 927.1L512.1 926.2L513.7 925.3L515.3 924.4L516.8 923.5L518.4 922.6L520 921.7L521.7 920.8L523.3 919.9L524.9 919.1L526.5 918.2L528.1 917.3L529.8 916.5L531.4 915.6L533 914.8L534.7 913.9L536.3 913.1L538 912.2L539.6 911.4L541.3 910.5L542.9 909.7L544.6 908.9L546.3 908L548 907.2L549.6 906.4L551.3 905.6L553 904.7L554.7 903.9L556.4 903.1L558.1 902.3L559.8 901.5L561.5 900.7L563.3 899.9L565 899.1L566.7 898.3L568.4 897.6L570.2 896.8L571.9 896L573.7 895.2L575.4 894.5L577.2 893.7L578.9 892.9L580.7 892.2L582.4 891.4L584.2 890.7L586 889.9L587.8 889.2L589.6 888.4L591.3 887.7L593.1 886.9L594.9 886.2L596.7 885.5L598.5 884.7L600.3 884L602.2 883.3L604 882.6L605.8 881.9L607.6 881.2L609.5 880.5L611.3 879.8L613.1 879.1L615 878.4L616.8 877.7L618.7 877L620.6 876.3L622.4 875.6L624.3 874.9L626.2 874.3L628 873.6L629.9 872.9L631.8 872.3L633.7 871.6L635.6 870.9L637.5 870.3L639.4 869.6L641.3 869L643.2 868.3L645.1 867.7L647 867.1L649 866.4L650.9 865.8L652.8 865.2L654.8 864.5L656.7 863.9L658.7 863.3L660.6 862.7L662.6 862.1L664.5 861.5L666.5 860.9L668.5 860.3L670.4 859.7L672.4 859.1L674.4 858.5L676.4 857.9L678.4 857.3L680.4 856.8L682.4 856.2L684.4 855.6L686.4 855L688.4 854.5L690.4 853.9L692.5 853.4L694.5 852.8L696.5 852.2L698.6 851.7L700.6 851.2L702.6 850.6L704.7 850.1L706.7 849.5L708.8 849L710.9 848.5L712.9 848L715 847.4L717.1 846.9L719.2 846.4L721.2 845.9L723.3 845.4L725.4 844.9L727.5 844.4L729.6 843.9L731.7 843.4L733.9 842.9L736 842.4L738.1 841.9L740.2 841.5L742.3 841L744.5 840.5L746.6 840L748.8 839.6L750.9 839.1L753.1 838.7L755.2 838.2L757.4 837.7L759.5 837.3L761.7 836.9L763.9 836.4L766.1 836L768.2 835.5L770.4 835.1L772.6 834.7L774.8 834.3L777 833.8L779.2 833.4L781.4 833L783.6 832.6L785.9 832.2L788.1 831.8L790.3 831.4L792.5 831L794.8 830.6L797 830.2L799.3 829.8L801.5 829.4L803.8 829.1L806 828.7L808.3 828.3L810.6 827.9L812.8 827.6L815.1 827.2L817.4 826.9L819.7 826.5L822 826.2L824.3 825.8L826.6 825.5L828.9 825.1L831.2 824.8L833.5 824.4L835.8 824.1L838.1 823.8L840.4 823.5L842.8 823.1L845.1 822.8L847.4 822.5L849.8 822.2L852.1 821.9L854.5 821.6L856.8 821.3L859.2 821L861.6 820.7L863.9 820.4L866.3 820.1L868.7 819.8L871.1 819.6L873.4 819.3L875.8 819L878.2 818.8L880.6 818.5L883 818.2L885.4 818L887.9 817.7L890.3 817.5L892.7 817.2L895.1 817L897.5 816.7L900 816.5L902.4 816.3L904.9 816L907.3 815.8L909.8 815.6L912.2 815.4L914.7 815.1L917.2 814.9L919.6 814.7L922.1 814.5L924.6 814.3L927.1 814.1L929.6 813.9L932 813.7L934.5 813.5L937 813.3L939.6 813.2L942.1 813L944.6 812.8L947.1 812.6L949.6 812.5L952.2 812.3L954.7 812.1L957.2 812L959.8 811.8L962.3 811.7L964.9 811.5L967.4 811.4L970 811.2L972.5 811.1L975.1 811L977.7 810.8L980.3 810.7L982.8 810.6L985.4 810.5L988 810.4L990.6 810.2L993.2 810.1L995.8 810L998.4 809.9L1001 809.8L1003.6 809.7L1006.3 809.6L1008.9 809.6L1011.5 809.5L1014.2 809.4L1016.8 809.3L1019.4 809.2L1022.1 809.2L1024.7 809.1L1027.4 809L1030.1 809L1032.7 808.9L1035.4 808.9L1038.1 808.8L1040.8 808.8L1043.4 808.7L1046.1 808.7L1048.8 808.6L1051.5 808.6L1054.2 808.6L1056.9 808.6L1059.6 808.5L1062.3 808.5L1065.1 808.5L1067.8 808.5L1070.5 808.5L1073.2 808.5L1076 808.5L1078.7 808.5L1081.5 808.5L1084.2 808.5L1087 808.5L1089.7 808.5L1092.5 808.5L1095.3 808.5L1098 808.6L1100.8 808.6L1103.6 808.6L1106.4 808.7L1109.2 808.7L1112 808.8L1114.8 808.8L1117.6 808.8L1120.4 808.9L1123.2 809L1126 809L1128.8 809.1L1131.6 809.2L1134.5 809.2L1137.3 809.3L1140.2 809.4L1143 809.5L1145.8 809.5L1148.7 809.6L1151.5 809.7L1154.4 809.8L1157.3 809.9L1160.1 810L1163 810.1L1165.9 810.2L1168.8 810.3L1171.7 810.5L1174.6 810.6L1177.5 810.7L1180.4 810.8L1183.3 811L1186.2 811.1L1189.1 811.2L1192 811.4L1194.9 811.5L1197.9 811.7L1200.8 811.8L1203.7 812L1206.7 812.1L1209.6 812.3L1212.6 812.4L1215.5 812.6L1218.5 812.8L1221.4 813L1224.4 813.1L1227.4 813.3L1230.3 813.5L1233.3 813.7L1236.3 813.9L1239.3 814.1L1242.3 814.3L1245.3 814.5L1248.3 814.7L1251.3 814.9L1254.3 815.1L1257.3 815.3L1260.4 815.5L1263.4 815.8L1266.4 816L1269.4 816.2L1272.5 816.5L1275.5 816.7L1278.6 816.9L1281.6 817.2L1284.7 817.4L1287.7 817.7L1290.8 817.9L1293.9 818.2L1296.9 818.4L1300 818.7L1303.1 819L1306.2 819.2L1309.3 819.5L1312.4 819.8L1315.5 820.1L1318.6 820.4L1321.7 820.7L1324.8 820.9L1327.9 821.2L1331 821.5L1334.2 821.8L1337.3 822.2L1340.4 822.5L1343.6 822.8L1346.7 823.1L1349.9 823.4L1353 823.7L1356.2 824.1L1359.3 824.4L1362.5 824.7L1365.7 825.1L1368.9 825.4L1372 825.7L1375.2 826.1L1378.4 826.4L1381.6 826.8L1384.8 827.2L1388 827.5L1391.2 827.9L1394.4 828.3L1397.6 828.6L1400.9 829L1404.1 829.4L1407.3 829.8L1410.5 830.1L1413.8 830.5L1417 830.9L1420.3 831.3L1423.5 831.7L1426.8 832.1L1430 832.5L1433.3 832.9L1436.6 833.4L1439.8 833.8L1443.1 834.2L1446.4 834.6L1449.7 835L1453 835.5L1456.3 835.9L1459.6 836.3L1462.9 836.8L1466.2 837.2L1469.5 837.7L1472.8 838.1L1476.1 838.6L1479.5 839L1482.8 839.5L1486.1 840L1489.5 840.4L1492.8 840.9L1496.2 841.4L1499.5 841.9L1502.9 842.3L1506.2 842.8L1509.6 843.3L1513 843.8L1516.3 844.3L1519.7 844.8L1523.1 845.3L1526.5 845.8L1529.9 846.3L1533.3 846.8L1536.7 847.4L1540.1 847.9L1543.5 848.4L1546.9 848.9L1550.3 849.5L1553.8 850L1557.2 850.5L1560.6 851.1L1564.1 851.6L1567.5 852.2L1570.9 852.7L1574.4 853.3L1577.8 853.8L1581.3 854.4L1584.8 854.9L1588.2 855.5L1591.7 856.1L1595.2 856.7L1598.7 857.2L1602.1 857.8L1605.6 858.4L1609.1 859L1612.6 859.6L1616.1 860.2L1619.6 860.8L1623.2 861.4L1626.7 862L1630.2 862.6L1633.7 863.2L1637.3 863.8L1640.8 864.4L1644.3 865.1L1647.9 865.7L1651.4 866.3L1655 867L1658.5 867.6L1662.1 868.2L1665.6 868.9L1669.2 869.5L1672.8 870.2L1676.4 870.8L1680 871.5L1683.5 872.1L1687.1 872.8L1690.7 873.5L1694.3 874.2L1697.9 874.8L1701.5 875.5L1705.2 876.2L1708.8 876.9L1712.4 877.6L1716 878.3L1719.7 878.9L1723.3 879.6L1726.9 880.3L1730.6 881.1L1734.2 881.8L1737.9 882.5L1741.5 883.2L1745.2 883.9L1748.9 884.6L1752.6 885.4L1756.2 886.1L1759.9 886.8L1763.6 887.6L1767.3 888.3L1771 889L1774.7 889.8L1778.4 890.5L1782.1 891.3L1785.8 892L1789.5 892.8L1793.2 893.6L1797 894.3L1800.7 895.1L1804.4 895.9L1808.2 896.7L1811.9 897.4L1815.6 898.2L1819.4 899L1823.2 899.8L1826.9 900.6" stroke-dashoffset="2.1"/>
<path d="M1984.9 936.1L1988.9 937L1992.8 938L1996.8 938.9L2000.7 939.9L2004.7 940.8L2008.7 941.8L2012.6 942.7" stroke-dashoffset="27.4"/>
<path d="M229.7 1459.1L229.7 1456.7L229.7 1454.4L229.7 1452.1L229.7 1449.8L229.7 1447.4L229.7 1445.1L229.8 1442.8L229.8 1440.5L229.8 1438.2L229.9 1435.9L229.9 1433.6L230 1431.3L230 1429L230.1 1426.7L230.2 1424.5L230.2 1422.2L230.3 1419.9L230.4 1417.6L230.5 1415.3L230.5 1413.1L230.6 1410.8L230.7 1408.5L230.8 1406.3L230.9 1404L231 1401.8L231.2 1399.5L231.3 1397.3L231.4 1395L231.5 1392.8L231.7 1390.6L231.8 1388.3L231.9 1386.1L232.1 1383.9L232.2 1381.6L232.4 1379.4L232.5 1377.2L232.7 1375L232.9 1372.8L233 1370.6L233.2 1368.3L233.4 1366.1L233.6 1363.9L233.8 1361.7L234 1359.5L234.1 1357.4L234.3 1355.2L234.6 1353L234.8 1350.8L235 1348.6L235.2 1346.4L235.4 1344.3L235.7 1342.1L235.9 1339.9L236.1 1337.8L236.4 1335.6L236.6 1333.5L236.9 1331.3L237.1 1329.2L237.4 1327L237.6 1324.9L237.9 1322.7L238.2 1320.6L238.5 1318.4L238.7 1316.3L239 1314.2L239.3 1312.1L239.6 1309.9L239.9 1307.8L240.2 1305.7L240.5 1303.6L240.8 1301.5L241.1 1299.4L241.5 1297.3L241.8 1295.2L242.1 1293.1L242.5 1291L242.8 1288.9L243.1 1286.8L243.5 1284.7L243.8 1282.6L244.2 1280.6L244.6 1278.5L244.9 1276.4L245.3 1274.3L245.7 1272.3L246 1270.2L246.4 1268.1L246.8 1266.1L247.2 1264L247.6 1262L248 1259.9L248.4 1257.9L248.8 1255.9L249.2 1253.8L249.7 1251.8L250.1 1249.8L250.5 1247.7L250.9 1245.7L251.4 1243.7L251.8 1241.7L252.3 1239.7L252.7 1237.6L253.2 1235.6L253.6 1233.6L254.1 1231.6L254.6 1229.6L255 1227.6L255.5 1225.6L256 1223.6L256.5 1221.7L257 1219.7L257.5 1217.7L258 1215.7L258.5 1213.7L259 1211.8L259.5 1209.8L260 1207.8L260.5 1205.9L261 1203.9L261.6 1202L262.1 1200L262.6 1198.1L263.2 1196.1L263.7 1194.2L264.3 1192.2L264.8 1190.3L265.4 1188.4L266 1186.5L266.5 1184.5L267.1 1182.6L267.7 1180.7L268.3 1178.8L268.9 1176.9L269.5 1174.9L270 1173L270.6 1171.1L271.3 1169.2L271.9 1167.3L272.5 1165.4L273.1 1163.6L273.7 1161.7L274.3 1159.8L275 1157.9L275.6 1156L276.3 1154.2L276.9 1152.3L277.5 1150.4L278.2 1148.6L278.9 1146.7L279.5 1144.8L280.2 1143L280.9 1141.1L281.5 1139.3L282.2 1137.4L282.9 1135.6L283.6 1133.8L284.3 1131.9L285 1130.1L285.7 1128.3L286.4 1126.4L287.1 1124.6L287.8 1122.8L288.5 1121L289.3 1119.2L290 1117.4L290.7 1115.5L291.5 1113.7L292.2 1111.9L293 1110.1L293.7 1108.4L294.5 1106.6L295.2 1104.8L296 1103L296.8 1101.2L297.5 1099.4L298.3 1097.7L299.1 1095.9L299.9 1094.1L300.7 1092.4L301.5 1090.6L302.3 1088.8L303.1 1087.1L303.9 1085.3L304.7 1083.6L305.5 1081.8L306.3 1080.1L307.1 1078.4L308 1076.6L308.8 1074.9L309.7 1073.2L310.5 1071.4L311.3 1069.7L312.2 1068L313.1 1066.3L313.9 1064.6L314.8 1062.9L315.7 1061.2L316.5 1059.5L317.4 1057.8L318.3 1056.1L319.2 1054.4L320.1 1052.7L321 1051L321.9 1049.3L322.8 1047.6L323.7 1046L324.6 1044.3L325.5 1042.6L326.5 1041L327.4 1039.3L328.3 1037.6L329.3 1036L330.2 1034.3L331.1 1032.7L332.1 1031L333 1029.4L334 1027.7L335 1026.1L335.9 1024.5L336.9 1022.8L337.9 1021.2L338.9 1019.6L339.9 1018L340.8 1016.4L341.8 1014.7L342.8 1013.1L343.8 1011.5L344.9 1009.9L345.9 1008.3L346.9 1006.7L347.9 1005.1L348.9 1003.5L350 1002L351 1000.4L352 998.8L353.1 997.2L354.1 995.6L355.2 994.1L356.2 992.5L357.3 990.9L358.4 989.4L359.4 987.8L360.5 986.3L361.6 984.7L362.7 983.2L363.8 981.6L364.9 980.1L366 978.5L367.1 977L368.2 975.5L369.3 974L370.4 972.4L371.5 970.9L372.6 969.4L373.8 967.9L374.9 966.4L376 964.9L377.2 963.4L378.3 961.9L379.5 960.4L380.6 958.9L381.8 957.4L382.9 955.9L384.1 954.4L385.3 952.9L386.5 951.4L387.6 950L388.8 948.5L390 947L391.2 945.6L392.4 944.1L393.6 942.6L394.8 941.2L396 939.7L397.2 938.3L398.5 936.8L399.7 935.4L400.9 934L402.2 932.5L403.4 931.1L404.6 929.7L405.9 928.2L407.1 926.8L408.4 925.4L409.7 924L410.9 922.6L412.2 921.2L413.5 919.8L414.7 918.4L416 917L417.3 915.6L418.6 914.2L419.9 912.8L421.2 911.4L422.5 910L423.8 908.7L425.1 907.3L426.4 905.9L427.8 904.5L429.1 903.2L430.4 901.8L431.8 900.5L433.1 899.1L434.4 897.7L435.8 896.4L437.2 895.1L438.5 893.7L439.9 892.4L441.2 891L442.6 889.7L444 888.4L445.4 887.1L446.8 885.7L448.1 884.4L449.5 883.1L450.9 881.8L452.3 880.5L453.7 879.2L455.2 877.9L456.6 876.6L458 875.3L459.4 874L460.8 872.7L462.3 871.4L463.7 870.2L465.2 868.9L466.6 867.6L468.1 866.3L469.5 865.1L471 863.8L472.4 862.5L473.9 861.3L475.4 860L476.9 858.8L478.3 857.5L479.8 856.3L481.3 855.1L482.8 853.8L484.3 852.6L485.8 851.4L487.3 850.1L488.8 848.9L490.4 847.7L491.9 846.5L493.4 845.3L494.9 844L496.5 842.8L498 841.6L499.6 840.4L501.1 839.2L502.7 838.1L504.2 836.9L505.8 835.7L507.4 834.5L508.9 833.3L510.5 832.1L512.1 831L513.7 829.8L515.3 828.6L516.8 827.5L518.4 826.3L520 825.2L521.7 824L523.3 822.9L524.9 821.7L526.5 820.6L528.1 819.4L529.8 818.3L531.4 817.2L533 816L534.7 814.9L536.3 813.8L538 812.7L539.6 811.6L541.3 810.4L542.9 809.3L544.6 808.2L546.3 807.1L548 806L549.6 804.9L551.3 803.8L553 802.8L554.7 801.7L556.4 800.6L558.1 799.5L559.8 798.4L561.5 797.4L563.3 796.3L565 795.2L566.7 794.2L568.4 793.1L570.2 792.1L571.9 791L573.7 790L575.4 788.9L577.2 787.9L578.9 786.9L580.7 785.8L582.4 784.8L584.2 783.8L586 782.7L587.8 781.7L589.6 780.7L591.3 779.7L593.1 778.7L594.9 777.7L596.7 776.7L598.5 775.7L600.3 774.7L602.2 773.7L604 772.7L605.8 771.7L607.6 770.7L609.5 769.8L611.3 768.8L613.1 767.8L615 766.9L616.8 765.9L618.7 764.9L620.6 764L622.4 763L624.3 762.1L626.2 761.1L628 760.2L629.9 759.2L631.8 758.3L633.7 757.4L635.6 756.4L637.5 755.5L639.4 754.6L641.3 753.7L643.2 752.7L645.1 751.8L647 750.9L649 750L650.9 749.1L652.8 748.2L654.8 747.3L656.7 746.4L658.7 745.5L660.6 744.6L662.6 743.8L664.5 742.9L666.5 742L668.5 741.1L670.4 740.3L672.4 739.4L674.4 738.5L676.4 737.7L678.4 736.8L680.4 736L682.4 735.1L684.4 734.3L686.4 733.4L688.4 732.6L690.4 731.8L692.5 730.9L694.5 730.1L696.5 729.3L698.6 728.5L700.6 727.7L702.6 726.8L704.7 726L706.7 725.2L708.8 724.4L710.9 723.6L712.9 722.8L715 722L717.1 721.2L719.2 720.5L721.2 719.7L723.3 718.9L725.4 718.1L727.5 717.4L729.6 716.6L731.7 715.8L733.9 715.1L736 714.3L738.1 713.5L740.2 712.8L742.3 712L744.5 711.3L746.6 710.6L748.8 709.8L750.9 709.1L753.1 708.4L755.2 707.6L757.4 706.9L759.5 706.2L761.7 705.5L763.9 704.8L766.1 704L768.2 703.3L770.4 702.6L772.6 701.9L774.8 701.2L777 700.5L779.2 699.9L781.4 699.2L783.6 698.5L785.9 697.8L788.1 697.1L790.3 696.5L792.5 695.8L794.8 695.1L797 694.5L799.3 693.8L801.5 693.2L803.8 692.5L806 691.9L808.3 691.2L810.6 690.6L812.8 689.9L815.1 689.3L817.4 688.7L819.7 688L822 687.4L824.3 686.8L826.6 686.2L828.9 685.6L831.2 685L833.5 684.4L835.8 683.8L838.1 683.2L840.4 682.6L842.8 682L845.1 681.4L847.4 680.8L849.8 680.2L852.1 679.6L854.5 679.1L856.8 678.5L859.2 677.9L861.6 677.4L863.9 676.8L866.3 676.2L868.7 675.7L871.1 675.1L873.4 674.6L875.8 674L878.2 673.5L880.6 673L883 672.4L885.4 671.9L887.9 671.4L890.3 670.8L892.7 670.3L895.1 669.8L897.5 669.3L900 668.8L902.4 668.3L904.9 667.8L907.3 667.3L909.8 666.8L912.2 666.3L914.7 665.8L917.2 665.3L919.6 664.8L922.1 664.4L924.6 663.9L927.1 663.4L929.6 663L932 662.5L934.5 662L937 661.6L939.6 661.1L942.1 660.7L944.6 660.2L947.1 659.8L949.6 659.3L952.2 658.9L954.7 658.5L957.2 658L959.8 657.6L962.3 657.2L964.9 656.8L967.4 656.4L970 656L972.5 655.5L975.1 655.1L977.7 654.7L980.3 654.3L982.8 654L985.4 653.6L988 653.2L990.6 652.8L993.2 652.4L995.8 652L998.4 651.7L1001 651.3L1003.6 650.9L1006.3 650.6L1008.9 650.2L1011.5 649.8L1014.2 649.5L1016.8 649.1L1019.4 648.8L1022.1 648.5L1024.7 648.1L1027.4 647.8L1030.1 647.5L1032.7 647.1L1035.4 646.8L1038.1 646.5L1040.8 646.2L1043.4 645.9L1046.1 645.5L1048.8 645.2L1051.5 644.9L1054.2 644.6L1056.9 644.3L1059.6 644L1062.3 643.8L1065.1 643.5L1067.8 643.2L1070.5 642.9L1073.2 642.6L1076 642.4L1078.7 642.1L1081.5 641.8L1084.2 641.6L1087 641.3L1089.7 641L1092.5 640.8L1095.3 640.6L1098 640.3L1100.8 640.1L1103.6 639.8L1106.4 639.6L1109.2 639.4L1112 639.1L1114.8 638.9L1117.6 638.7L1120.4 638.5L1123.2 638.3L1126 638.1L1128.8 637.9L1131.6 637.6L1134.5 637.5L1137.3 637.3L1140.2 637.1L1143 636.9L1145.8 636.7L1148.7 636.5L1151.5 636.3L1154.4 636.2L1157.3 636L1160.1 635.8L1163 635.7L1165.9 635.5L1168.8 635.3L1171.7 635.2L1174.6 635L1177.5 634.9L1180.4 634.7L1183.3 634.6L1186.2 634.5L1189.1 634.3L1192 634.2L1194.9 634.1L1197.9 634L1200.8 633.8L1203.7 633.7L1206.7 633.6L1209.6 633.5L1212.6 633.4L1215.5 633.3L1218.5 633.2L1221.4 633.1L1224.4 633L1227.4 632.9L1230.3 632.9L1233.3 632.8L1236.3 632.7L1239.3 632.6L1242.3 632.6L1245.3 632.5L1248.3 632.4L1251.3 632.4L1254.3 632.3L1257.3 632.3L1260.4 632.2L1263.4 632.2L1266.4 632.1L1269.4 632.1L1272.5 632.1L1275.5 632L1278.6 632L1281.6 632L1284.7 632L1287.7 631.9L1290.8 631.9L1293.9 631.9L1296.9 631.9L1300 631.9L1303.1 631.9L1306.2 631.9L1309.3 631.9L1312.4 631.9L1315.5 631.9L1318.6 632L1321.7 632L1324.8 632L1327.9 632L1331 632.1L1334.2 632.1L1337.3 632.1L1340.4 632.2L1343.6 632.2L1346.7 632.3L1349.9 632.3L1353 632.4L1356.2 632.4L1359.3 632.5L1362.5 632.6L1365.7 632.6L1368.9 632.7L1372 632.8L1375.2 632.9L1378.4 633L1381.6 633.1L1384.8 633.1L1388 633.2L1391.2 633.3L1394.4 633.4L1397.6 633.5L1400.9 633.7L1404.1 633.8L1407.3 633.9L1410.5 634L1413.8 634.1L1417 634.3L1420.3 634.4L1423.5 634.5L1426.8 634.7L1430 634.8L1433.3 634.9L1436.6 635.1L1439.8 635.2L1443.1 635.4L1446.4 635.5L1449.7 635.7L1453 635.9L1456.3 636L1459.6 636.2L1462.9 636.4L1466.2 636.6L1469.5 636.7L1472.8 636.9L1476.1 637.1L1479.5 637.3L1482.8 637.5L1486.1 637.7L1489.5 637.9L1492.8 638.1L1496.2 638.3L1499.5 638.5L1502.9 638.8L1506.2 639L1509.6 639.2L1513 639.4L1516.3 639.7L1519.7 639.9L1523.1 640.1L1526.5 640.4L1529.9 640.6L1533.3 640.9L1536.7 641.1L1540.1 641.4L1543.5 641.6L1546.9 641.9L1550.3 642.2L1553.8 642.4L1557.2 642.7L1560.6 643L1564.1 643.3L1567.5 643.6L1570.9 643.8L1574.4 644.1L1577.8 644.4L1581.3 644.7L1584.8 645L1588.2 645.3L1591.7 645.6L1595.2 645.9L1598.7 646.3L1602.1 646.6L1605.6 646.9L1609.1 647.2L1612.6 647.6L1616.1 647.9L1619.6 648.2L1623.2 648.6L1626.7 648.9L1630.2 649.3L1633.7 649.6L1637.3 650L1640.8 650.3L1644.3 650.7L1647.9 651L1651.4 651.4L1655 651.8L1658.5 652.2L1662.1 652.5L1665.6 652.9L1669.2 653.3L1672.8 653.7L1676.4 654.1L1680 654.5L1683.5 654.9L1687.1 655.3L1690.7 655.7L1694.3 656.1L1697.9 656.5L1701.5 656.9L1705.2 657.3L1708.8 657.8L1712.4 658.2L1716 658.6L1719.7 659L1723.3 659.5L1726.9 659.9L1730.6 660.4L1734.2 660.8L1737.9 661.3L1741.5 661.7L1745.2 662.2L1748.9 662.6L1752.6 663.1L1756.2 663.6L1759.9 664L1763.6 664.5L1767.3 665L1771 665.5L1774.7 666L1778.4 666.5" stroke-dashoffset="47.8"/>
<path d="M1941.8 690.8L1945.7 691.4L1949.6 692.1L1953.5 692.7L1957.4 693.4L1961.3 694L1965.2 694.7L1969.2 695.3L1973.1 696L1977 696.7L1981 697.3L1984.9 698L1988.9 698.7L1992.8 699.4L1996.8 700.1L2000.7 700.8L2004.7 701.5L2008.7 702.2L2012.6 702.9" stroke-dashoffset="17.8"/>
<path d="M1148.7 461.8L1145.8 462.3L1143 462.7L1140.2 463.2L1137.3 463.6L1134.5 464.1L1131.6 464.6L1128.8 465.1L1126 465.5L1123.2 466L1120.4 466.5L1117.6 467L1114.8 467.5L1112 468L1109.2 468.5L1106.4 469L1103.6 469.5L1100.8 470L1098 470.5L1095.3 471.1L1092.5 471.6L1089.7 472.1L1087 472.6L1084.2 473.2L1081.5 473.7L1078.7 474.2L1076 474.8L1073.2 475.3L1070.5 475.9L1067.8 476.4L1065.1 477L1062.3 477.6L1059.6 478.1L1056.9 478.7L1054.2 479.3L1051.5 479.8L1048.8 480.4L1046.1 481L1043.4 481.6L1040.8 482.2L1038.1 482.8L1035.4 483.4L1032.7 484L1030.1 484.6L1027.4 485.2L1024.7 485.8L1022.1 486.4" stroke-dashoffset="14"/>
<path d="M863.9 532.1L861.6 532.9L859.2 533.8L856.8 534.6L854.5 535.4L852.1 536.3L849.8 537.1L847.4 538L845.1 538.9L842.8 539.7L840.4 540.6L838.1 541.5L835.8 542.3L833.5 543.2L831.2 544.1L828.9 545L826.6 545.9L824.3 546.8L822 547.7L819.7 548.6L817.4 549.5L815.1 550.4L812.8 551.3L810.6 552.2L808.3 553.1L806 554L803.8 555L801.5 555.9L799.3 556.8L797 557.8L794.8 558.7L792.5 559.6L790.3 560.6L788.1 561.5L785.9 562.5L783.6 563.4L781.4 564.4L779.2 565.3L777 566.3L774.8 567.3L772.6 568.3L770.4 569.2L768.2 570.2L766.1 571.2L763.9 572.2L761.7 573.2L759.5 574.2L757.4 575.2L755.2 576.2L753.1 577.2L750.9 578.2L748.8 579.2L746.6 580.2L744.5 581.2L742.3 582.2L740.2 583.2L738.1 584.3L736 585.3L733.9 586.3L731.7 587.4L729.6 588.4L727.5 589.5L725.4 590.5L723.3 591.6L721.2 592.6L719.2 593.7L717.1 594.7L715 595.8L712.9 596.9L710.9 597.9L708.8 599L706.7 600.1L704.7 601.2L702.6 602.3L700.6 603.4L698.6 604.5L696.5 605.5L694.5 606.6L692.5 607.7L690.4 608.9L688.4 610L686.4 611.1L684.4 612.2L682.4 613.3L680.4 614.4L678.4 615.6L676.4 616.7L674.4 617.8L672.4 619L670.4 620.1L668.5 621.3L666.5 622.4L664.5 623.6L662.6 624.7L660.6 625.9L658.7 627L656.7 628.2L654.8 629.4L652.8 630.5L650.9 631.7L649 632.9L647 634.1L645.1 635.3L643.2 636.4L641.3 637.6L639.4 638.8L637.5 640L635.6 641.2L633.7 642.4L631.8 643.6L629.9 644.9L628 646.1L626.2 647.3L624.3 648.5L622.4 649.7L620.6 651L618.7 652.2L616.8 653.4L615 654.7L613.1 655.9L611.3 657.2L609.5 658.4L607.6 659.7L605.8 660.9L604 662.2L602.2 663.5L600.3 664.7L598.5 666L596.7 667.3L594.9 668.5L593.1 669.8L591.3 671.1L589.6 672.4L587.8 673.7L586 675L584.2 676.3L582.4 677.6L580.7 678.9L578.9 680.2L577.2 681.5L575.4 682.8L573.7 684.1L571.9 685.5L570.2 686.8L568.4 688.1L566.7 689.4L565 690.8L563.3 692.1L561.5 693.5L559.8 694.8L558.1 696.2L556.4 697.5L554.7 698.9L553 700.2L551.3 701.6L549.6 703L548 704.3L546.3 705.7L544.6 707.1L542.9 708.5L541.3 709.8L539.6 711.2L538 712.6L536.3 714L534.7 715.4L533 716.8L531.4 718.2L529.8 719.6L528.1 721L526.5 722.4L524.9 723.8L523.3 725.3L521.7 726.7L520 728.1L518.4 729.5L516.8 731L515.3 732.4L513.7 733.9L512.1 735.3L510.5 736.7L508.9 738.2L507.4 739.7L505.8 741.1L504.2 742.6L502.7 744L501.1 745.5L499.6 747L498 748.4L496.5 749.9L494.9 751.4L493.4 752.9L491.9 754.4L490.4 755.9L488.8 757.4L487.3 758.9L485.8 760.4L484.3 761.9L482.8 763.4L481.3 764.9L479.8 766.4L478.3 767.9L476.9 769.4L475.4 771L473.9 772.5L472.4 774L471 775.5L469.5 777.1L468.1 778.6L466.6 780.2L465.2 781.7L463.7 783.3L462.3 784.8L460.8 786.4L459.4 787.9L458 789.5L456.6 791.1L455.2 792.6L453.7 794.2L452.3 795.8L450.9 797.4L449.5 799L448.1 800.5L446.8 802.1L445.4 803.7L444 805.3L442.6 806.9L441.2 808.5L439.9 810.1L438.5 811.7L437.2 813.4L435.8 815L434.4 816.6L433.1 818.2L431.8 819.9L430.4 821.5L429.1 823.1L427.8 824.8L426.4 826.4L425.1 828L423.8 829.7L422.5 831.3L421.2 833L419.9 834.6L418.6 836.3L417.3 838L416 839.6L414.7 841.3L413.5 843L412.2 844.7L410.9 846.3L409.7 848L408.4 849.7L407.1 851.4L405.9 853.1L404.6 854.8L403.4 856.5L402.2 858.2L400.9 859.9L399.7 861.6L398.5 863.3L397.2 865L396 866.8L394.8 868.5L393.6 870.2L392.4 871.9L391.2 873.7L390 875.4L388.8 877.2L387.6 878.9L386.5 880.6L385.3 882.4L384.1 884.2L382.9 885.9L381.8 887.7L380.6 889.4L379.5 891.2L378.3 893L377.2 894.7L376 896.5L374.9 898.3L373.8 900.1L372.6 901.9L371.5 903.7L370.4 905.4L369.3 907.2L368.2 909L367.1 910.8L366 912.6L364.9 914.5L363.8 916.3L362.7 918.1L361.6 919.9L360.5 921.7L359.4 923.6L358.4 925.4L357.3 927.2L356.2 929L355.2 930.9L354.1 932.7L353.1 934.6L352 936.4L351 938.3L350 940.1L348.9 942L347.9 943.8L346.9 945.7L345.9 947.6L344.9 949.4L343.8 951.3L342.8 953.2L341.8 955.1L340.8 957L339.9 958.9L338.9 960.7L337.9 962.6L336.9 964.5L335.9 966.4L335 968.3L334 970.2L333 972.2L332.1 974.1L331.1 976L330.2 977.9L329.3 979.8L328.3 981.8L327.4 983.7L326.5 985.6L325.5 987.6L324.6 989.5L323.7 991.4L322.8 993.4L321.9 995.3L321 997.3L320.1 999.2L319.2 1001.2L318.3 1003.2L317.4 1005.1L316.5 1007.1L315.7 1009.1L314.8 1011L313.9 1013L313.1 1015L312.2 1017L311.3 1019L310.5 1021L309.7 1022.9L308.8 1024.9L308 1026.9L307.1 1029L306.3 1031L305.5 1033L304.7 1035L303.9 1037L303.1 1039L302.3 1041L301.5 1043.1L300.7 1045.1L299.9 1047.1L299.1 1049.2L298.3 1051.2L297.5 1053.2L296.8 1055.3L296 1057.3L295.2 1059.4L294.5 1061.4L293.7 1063.5L293 1065.6L292.2 1067.6L291.5 1069.7L290.7 1071.8L290 1073.8L289.3 1075.9L288.5 1078L287.8 1080.1L287.1 1082.2L286.4 1084.3L285.7 1086.4L285 1088.5L284.3 1090.6L283.6 1092.7L282.9 1094.8L282.2 1096.9L281.5 1099L280.9 1101.1L280.2 1103.2L279.5 1105.3L278.9 1107.5L278.2 1109.6L277.5 1111.7L276.9 1113.9L276.3 1116L275.6 1118.1L275 1120.3L274.3 1122.4L273.7 1124.6L273.1 1126.7L272.5 1128.9L271.9 1131.1L271.3 1133.2L270.6 1135.4L270 1137.6L269.5 1139.7L268.9 1141.9L268.3 1144.1L267.7 1146.3L267.1 1148.5L266.5 1150.6L266 1152.8L265.4 1155L264.8 1157.2L264.3 1159.4L263.7 1161.6L263.2 1163.8L262.6 1166L262.1 1168.3L261.6 1170.5L261 1172.7L260.5 1174.9L260 1177.1L259.5 1179.4L259 1181.6L258.5 1183.8L258 1186.1L257.5 1188.3L257 1190.6L256.5 1192.8L256 1195.1L255.5 1197.3L255 1199.6L254.6 1201.8L254.1 1204.1L253.6 1206.4L253.2 1208.6L252.7 1210.9L252.3 1213.2L251.8 1215.5L251.4 1217.8L250.9 1220L250.5 1222.3L250.1 1224.6L249.7 1226.9L249.2 1229.2L248.8 1231.5L248.4 1233.8L248 1236.1L247.6 1238.4L247.2 1240.8L246.8 1243.1L246.4 1245.4L246 1247.7L245.7 1250L245.3 1252.4L244.9 1254.7L244.6 1257L244.2 1259.4L243.8 1261.7L243.5 1264.1L243.1 1266.4L242.8 1268.8L242.5 1271.1L242.1 1273.5L241.8 1275.8L241.5 1278.2L241.1 1280.6L240.8 1282.9L240.5 1285.3L240.2 1287.7L239.9 1290.1L239.6 1292.5L239.3 1294.8L239 1297.2L238.7 1299.6L238.5 1302L238.2 1304.4L237.9 1306.8L237.6 1309.2L237.4 1311.6L237.1 1314L236.9 1316.4L236.6 1318.9L236.4 1321.3L236.1 1323.7L235.9 1326.1L235.7 1328.6L235.4 1331L235.2 1333.4L235 1335.9L234.8 1338.3L234.6 1340.7L234.3 1343.2L234.1 1345.6L234 1348.1L233.8 1350.6L233.6 1353L233.4 1355.5L233.2 1357.9L233 1360.4L232.9 1362.9L232.7 1365.4L232.5 1367.8L232.4 1370.3L232.2 1372.8L232.1 1375.3L231.9 1377.8L231.8 1380.3L231.7 1382.8L231.5 1385.3L231.4 1387.8L231.3 1390.3L231.2 1392.8L231 1395.3L230.9 1397.8L230.8 1400.3L230.7 1402.8L230.6 1405.4L230.5 1407.9L230.5 1410.4L230.4 1413L230.3 1415.5L230.2 1418L230.2 1420.6L230.1 1423.1L230 1425.7L230 1428.2L229.9 1430.8L229.9 1433.3L229.8 1435.9L229.8 1438.4L229.8 1441L229.7 1443.6L229.7 1446.1L229.7 1448.7L229.7 1451.3L229.7 1453.9L229.7 1456.5L229.7 1459.1" stroke-dashoffset="43.7"/>
<path d="M837.8 403.9L834.8 405.4L831.8 406.8L828.8 408.3L825.8 409.7L822.8 411.2L819.8 412.6L816.9 414.1L813.9 415.6L811 417.1L808 418.5L805.1 420L802.2 421.5L799.3 423L796.3 424.6L793.4 426.1L790.5 427.6L787.7 429.1L784.8 430.6L781.9 432.2L779 433.7L776.2 435.3L773.3 436.8L770.5 438.4L767.6 440" stroke-dashoffset="0"/>
<path d="M630.2 529.2L627.7 531L625.3 532.9L622.9 534.8L620.4 536.7L618 538.5L615.6 540.4L613.2 542.3L610.8 544.2L608.4 546.1L606 548.1L603.7 550L601.3 551.9L598.9 553.8L596.6 555.8L594.2 557.7L591.9 559.7L589.6 561.6L587.3 563.6L584.9 565.6L582.6 567.5L580.3 569.5L578 571.5L575.8 573.5L573.5 575.5L571.2 577.5L568.9 579.5L566.7 581.5L564.4 583.5L562.2 585.5L560 587.6L557.7 589.6L555.5 591.6L553.3 593.7L551.1 595.7L548.9 597.8L546.7 599.8L544.5 601.9L542.3 604L540.2 606.1L538 608.1L535.9 610.2L533.7 612.3L531.6 614.4L529.4 616.5L527.3 618.6L525.2 620.8L523.1 622.9L521 625L518.9 627.2L516.8 629.3L514.7 631.4L512.7 633.6L510.6 635.7L508.5 637.9L506.5 640.1L504.4 642.3L502.4 644.4L500.4 646.6L498.4 648.8L496.3 651L494.3 653.2L492.3 655.4L490.4 657.6L488.4 659.9L486.4 662.1L484.4 664.3L482.5 666.5L480.5 668.8L478.6 671L476.6 673.3L474.7 675.5L472.8 677.8L470.8 680.1L468.9 682.4L467 684.6L465.1 686.9L463.2 689.2L461.4 691.5L459.5 693.8L457.6 696.1L455.8 698.4L453.9 700.8L452.1 703.1L450.2 705.4L448.4 707.8L446.6 710.1L444.8 712.5L443 714.8L441.2 717.2L439.4 719.5L437.6 721.9L435.8 724.3L434 726.7L432.3 729L430.5 731.4L428.8 733.8L427 736.2L425.3 738.7L423.6 741.1L421.8 743.5L420.1 745.9L418.4 748.4L416.7 750.8L415 753.2L413.4 755.7L411.7 758.1L410 760.6L408.4 763.1L406.7 765.5L405.1 768L403.4 770.5L401.8 773L400.2 775.5L398.5 778L396.9 780.5L395.3 783L393.7 785.5L392.2 788.1L390.6 790.6L389 793.1L387.4 795.7L385.9 798.2L384.3 800.8L382.8 803.3L381.3 805.9L379.7 808.4L378.2 811L376.7 813.6L375.2 816.2L373.7 818.8L372.2 821.4L370.7 824L369.2 826.6L367.8 829.2L366.3 831.8L364.9 834.4L363.4 837.1L362 839.7L360.5 842.3L359.1 845L357.7 847.6L356.3 850.3L354.9 853L353.5 855.6L352.1 858.3L350.7 861L349.4 863.7L348 866.4L346.6 869.1L345.3 871.8L343.9 874.5L342.6 877.2L341.3 879.9L339.9 882.6L338.6 885.4L337.3 888.1L336 890.9L334.7 893.6L333.4 896.4L332.2 899.1L330.9 901.9L329.6 904.7L328.4 907.4L327.1 910.2L325.9 913L324.7 915.8L323.4 918.6L322.2 921.4L321 924.2L319.8 927L318.6 929.8L317.4 932.7L316.2 935.5L315.1 938.3L313.9 941.2L312.7 944L311.6 946.9L310.4 949.8L309.3 952.6L308.2 955.5L307 958.4L305.9 961.3L304.8 964.1L303.7 967L302.6 969.9L301.5 972.9L300.5 975.8L299.4 978.7L298.3 981.6L297.3 984.5L296.2 987.5L295.2 990.4L294.1 993.4L293.1 996.3L292.1 999.3L291.1 1002.2L290.1 1005.2L289.1 1008.2L288.1 1011.1L287.1 1014.1L286.1 1017.1L285.2 1020.1L284.2 1023.1L283.3 1026.1L282.3 1029.1L281.4 1032.2L280.4 1035.2L279.5 1038.2L278.6 1041.2L277.7 1044.3L276.8 1047.3L275.9 1050.4L275 1053.4L274.1 1056.5L273.3 1059.6L272.4 1062.7L271.5 1065.7L270.7 1068.8L269.8 1071.9L269 1075L268.2 1078.1L267.4 1081.2L266.5 1084.3L265.7 1087.5L264.9 1090.6L264.1 1093.7L263.4 1096.9L262.6 1100L261.8 1103.1L261.1 1106.3L260.3 1109.5L259.6 1112.6L258.8 1115.8L258.1 1119L257.4 1122.1L256.6 1125.3L255.9 1128.5L255.2 1131.7L254.5 1134.9L253.8 1138.1L253.2 1141.4L252.5 1144.6L251.8 1147.8L251.2 1151L250.5 1154.3L249.9 1157.5L249.2 1160.8L248.6 1164L248 1167.3L247.4 1170.6L246.8 1173.8L246.2 1177.1L245.6 1180.4L245 1183.7L244.4 1187L243.8 1190.3L243.3 1193.6L242.7 1196.9L242.2 1200.2L241.6 1203.5L241.1 1206.9L240.6 1210.2L240 1213.5L239.5 1216.9L239 1220.2L238.5 1223.6L238 1226.9L237.6 1230.3L237.1 1233.7L236.6 1237.1L236.2 1240.5L235.7 1243.8L235.3 1247.2L234.8 1250.6L234.4 1254L234 1257.5L233.5 1260.9L233.1 1264.3L232.7 1267.7L232.3 1271.2L232 1274.6L231.6 1278.1L231.2 1281.5L230.8 1285L230.5 1288.4L230.1 1291.9L229.8 1295.4L229.5 1298.9L229.1 1302.3L228.8 1305.8L228.5 1309.3L228.2 1312.8L227.9 1316.3L227.6 1319.9L227.3 1323.4L227 1326.9L226.8 1330.4L226.5 1334L226.3 1337.5L226 1341.1L225.8 1344.6L225.5 1348.2L225.3 1351.7L225.1 1355.3L224.9 1358.9L224.7 1362.5L224.5 1366.1L224.3 1369.6L224.1 1373.2L223.9 1376.8L223.8 1380.5L223.6 1384.1L223.5 1387.7L223.3 1391.3L223.2 1395L223.1 1398.6L222.9 1402.2L222.8 1405.9L222.7 1409.5L222.6 1413.2L222.5 1416.9L222.4 1420.5L222.4 1424.2L222.3 1427.9L222.2 1431.6L222.2 1435.3L222.1 1439L222.1 1442.7L222.1 1446.4L222 1450.1L222 1453.8L222 1457.6L222 1461.3" stroke-dashoffset="31.7"/>
<path d="M678.1 375.2L675.5 377.3L672.9 379.4L670.4 381.5L667.8 383.7L665.2 385.8L662.7 387.9L660.1 390L657.6 392.2L655.1 394.3L652.6 396.5L650 398.6" stroke-dashoffset="0"/>
<path d="M533.7 513.5L531.6 515.9L529.4 518.4L527.3 520.8L525.2 523.3L523.1 525.7L521 528.2L518.9 530.7L516.8 533.2L514.7 535.6L512.7 538.1L510.6 540.6L508.5 543.1L506.5 545.6L504.4 548.2L502.4 550.7L500.4 553.2L498.4 555.7L496.3 558.3L494.3 560.8L492.3 563.4L490.4 565.9L488.4 568.5L486.4 571L484.4 573.6L482.5 576.2L480.5 578.8L478.6 581.4L476.6 583.9L474.7 586.5L472.8 589.2L470.8 591.8L468.9 594.4L467 597L465.1 599.6L463.2 602.3L461.4 604.9L459.5 607.5L457.6 610.2L455.8 612.8L453.9 615.5L452.1 618.2L450.2 620.8L448.4 623.5L446.6 626.2L444.8 628.9L443 631.6L441.2 634.3L439.4 637L437.6 639.7L435.8 642.4L434 645.1L432.3 647.9L430.5 650.6L428.8 653.3L427 656.1L425.3 658.8L423.6 661.6L421.8 664.3L420.1 667.1L418.4 669.9L416.7 672.7L415 675.5L413.4 678.2L411.7 681L410 683.8L408.4 686.6L406.7 689.5L405.1 692.3L403.4 695.1L401.8 697.9L400.2 700.8L398.5 703.6L396.9 706.5L395.3 709.3L393.7 712.2L392.2 715L390.6 717.9L389 720.8L387.4 723.6L385.9 726.5L384.3 729.4L382.8 732.3L381.3 735.2L379.7 738.1L378.2 741L376.7 744L375.2 746.9L373.7 749.8L372.2 752.8L370.7 755.7L369.2 758.6L367.8 761.6L366.3 764.6L364.9 767.5L363.4 770.5L362 773.5L360.5 776.4L359.1 779.4L357.7 782.4L356.3 785.4L354.9 788.4L353.5 791.4L352.1 794.5L350.7 797.5L349.4 800.5L348 803.5L346.6 806.6L345.3 809.6L343.9 812.7L342.6 815.7L341.3 818.8L339.9 821.8L338.6 824.9L337.3 828L336 831.1L334.7 834.2L333.4 837.3L332.2 840.4L330.9 843.5L329.6 846.6L328.4 849.7L327.1 852.8L325.9 855.9L324.7 859.1L323.4 862.2L322.2 865.4L321 868.5L319.8 871.7L318.6 874.8L317.4 878L316.2 881.2L315.1 884.3L313.9 887.5L312.7 890.7L311.6 893.9L310.4 897.1L309.3 900.3L308.2 903.5L307 906.7L305.9 910L304.8 913.2L303.7 916.4L302.6 919.7L301.5 922.9L300.5 926.2L299.4 929.4L298.3 932.7L297.3 936L296.2 939.2L295.2 942.5L294.1 945.8L293.1 949.1L292.1 952.4L291.1 955.7L290.1 959L289.1 962.3L288.1 965.6L287.1 968.9L286.1 972.3L285.2 975.6L284.2 979L283.3 982.3L282.3 985.7L281.4 989L280.4 992.4L279.5 995.7L278.6 999.1L277.7 1002.5L276.8 1005.9L275.9 1009.3L275 1012.7L274.1 1016.1L273.3 1019.5L272.4 1022.9L271.5 1026.3L270.7 1029.8L269.8 1033.2L269 1036.6L268.2 1040.1L267.4 1043.5L266.5 1047L265.7 1050.4L264.9 1053.9L264.1 1057.4L263.4 1060.8L262.6 1064.3L261.8 1067.8L261.1 1071.3L260.3 1074.8L259.6 1078.3L258.8 1081.8L258.1 1085.3L257.4 1088.9L256.6 1092.4L255.9 1095.9L255.2 1099.5L254.5 1103L253.8 1106.6L253.2 1110.1L252.5 1113.7L251.8 1117.2L251.2 1120.8L250.5 1124.4L249.9 1128L249.2 1131.6L248.6 1135.2L248 1138.8L247.4 1142.4L246.8 1146L246.2 1149.6L245.6 1153.2L245 1156.8L244.4 1160.5L243.8 1164.1L243.3 1167.8L242.7 1171.4L242.2 1175.1L241.6 1178.7L241.1 1182.4L240.6 1186.1L240 1189.8L239.5 1193.4L239 1197.1L238.5 1200.8L238 1204.5L237.6 1208.2L237.1 1211.9L236.6 1215.7L236.2 1219.4L235.7 1223.1L235.3 1226.9L234.8 1230.6L234.4 1234.3L234 1238.1L233.5 1241.9L233.1 1245.6L232.7 1249.4L232.3 1253.2L232 1256.9L231.6 1260.7L231.2 1264.5L230.8 1268.3L230.5 1272.1L230.1 1275.9L229.8 1279.7L229.5 1283.6L229.1 1287.4L228.8 1291.2L228.5 1295.1L228.2 1298.9L227.9 1302.8L227.6 1306.6L227.3 1310.5L227 1314.3L226.8 1318.2L226.5 1322.1L226.3 1326L226 1329.8L225.8 1333.7L225.5 1337.6L225.3 1341.5L225.1 1345.5L224.9 1349.4L224.7 1353.3L224.5 1357.2L224.3 1361.2L224.1 1365.1L223.9 1369L223.8 1373L223.6 1376.9L223.5 1380.9L223.3 1384.9L223.2 1388.8L223.1 1392.8L222.9 1396.8L222.8 1400.8L222.7 1404.8L222.6 1408.8L222.5 1412.8L222.4 1416.8L222.4 1420.8L222.3 1424.8L222.2 1428.9L222.2 1432.9L222.1 1436.9L222.1 1441L222.1 1445L222 1449.1L222 1453.2L222 1457.2L222 1461.3" stroke-dashoffset="41.7"/>
<path d="M580.3 357.5L578 360.2L575.8 362.9L573.5 365.5L571.2 368.2L568.9 370.9L566.7 373.6L564.4 376.3L562.2 379L560 381.7" stroke-dashoffset="0"/>
<path d="M465.1 512.3L463.2 515.3L461.4 518.3L459.5 521.3L457.6 524.2L455.8 527.2L453.9 530.2L452.1 533.2L450.2 536.3L448.4 539.3L446.6 542.3L444.8 545.3L443 548.4L441.2 551.4L439.4 554.4L437.6 557.5L435.8 560.5L434 563.6L432.3 566.7L430.5 569.8L428.8 572.8L427 575.9L425.3 579L423.6 582.1L421.8 585.2L420.1 588.3L418.4 591.4L416.7 594.5L415 597.7L413.4 600.8L411.7 603.9L410 607.1L408.4 610.2L406.7 613.4L405.1 616.5L403.4 619.7L401.8 622.9L400.2 626L398.5 629.2L396.9 632.4L395.3 635.6L393.7 638.8L392.2 642L390.6 645.2L389 648.4L387.4 651.6L385.9 654.9L384.3 658.1L382.8 661.3L381.3 664.6L379.7 667.8L378.2 671.1L376.7 674.3L375.2 677.6L373.7 680.9L372.2 684.1L370.7 687.4L369.2 690.7L367.8 694L366.3 697.3L364.9 700.6L363.4 703.9L362 707.2L360.5 710.5L359.1 713.9L357.7 717.2L356.3 720.5L354.9 723.9L353.5 727.2L352.1 730.6L350.7 734L349.4 737.3L348 740.7L346.6 744.1L345.3 747.4L343.9 750.8L342.6 754.2L341.3 757.6L339.9 761L338.6 764.4L337.3 767.9L336 771.3L334.7 774.7L333.4 778.1L332.2 781.6L330.9 785L329.6 788.5L328.4 791.9L327.1 795.4L325.9 798.9L324.7 802.3L323.4 805.8L322.2 809.3L321 812.8L319.8 816.3L318.6 819.8L317.4 823.3L316.2 826.8L315.1 830.3L313.9 833.9L312.7 837.4L311.6 840.9L310.4 844.5L309.3 848L308.2 851.6L307 855.1L305.9 858.7L304.8 862.2L303.7 865.8L302.6 869.4L301.5 873L300.5 876.6L299.4 880.2L298.3 883.8L297.3 887.4L296.2 891L295.2 894.6L294.1 898.2L293.1 901.9L292.1 905.5L291.1 909.1L290.1 912.8L289.1 916.4L288.1 920.1L287.1 923.8L286.1 927.4L285.2 931.1L284.2 934.8L283.3 938.5L282.3 942.2L281.4 945.9L280.4 949.6L279.5 953.3L278.6 957L277.7 960.7L276.8 964.5L275.9 968.2L275 971.9L274.1 975.7L273.3 979.4L272.4 983.2L271.5 986.9L270.7 990.7L269.8 994.5L269 998.2L268.2 1002L267.4 1005.8L266.5 1009.6L265.7 1013.4L264.9 1017.2L264.1 1021L263.4 1024.8L262.6 1028.7L261.8 1032.5L261.1 1036.3L260.3 1040.2L259.6 1044L258.8 1047.9L258.1 1051.7L257.4 1055.6L256.6 1059.4L255.9 1063.3L255.2 1067.2L254.5 1071.1L253.8 1075L253.2 1078.9L252.5 1082.8L251.8 1086.7L251.2 1090.6L250.5 1094.5L249.9 1098.4L249.2 1102.3L248.6 1106.3L248 1110.2L247.4 1114.2L246.8 1118.1L246.2 1122.1L245.6 1126L245 1130L244.4 1134L243.8 1138L243.3 1141.9L242.7 1145.9L242.2 1149.9L241.6 1153.9L241.1 1157.9L240.6 1162L240 1166L239.5 1170L239 1174L238.5 1178.1L238 1182.1L237.6 1186.2L237.1 1190.2L236.6 1194.3L236.2 1198.3L235.7 1202.4L235.3 1206.5L234.8 1210.6L234.4 1214.6L234 1218.7L233.5 1222.8L233.1 1226.9L232.7 1231L232.3 1235.2L232 1239.3L231.6 1243.4L231.2 1247.5L230.8 1251.7L230.5 1255.8L230.1 1260L229.8 1264.1L229.5 1268.3L229.1 1272.4L228.8 1276.6L228.5 1280.8L228.2 1285L227.9 1289.2L227.6 1293.4L227.3 1297.6L227 1301.8L226.8 1306L226.5 1310.2L226.3 1314.4L226 1318.6L225.8 1322.9L225.5 1327.1L225.3 1331.4L225.1 1335.6L224.9 1339.9L224.7 1344.1L224.5 1348.4L224.3 1352.7L224.1 1356.9L223.9 1361.2L223.8 1365.5L223.6 1369.8L223.5 1374.1L223.3 1378.4L223.2 1382.7L223.1 1387L222.9 1391.4L222.8 1395.7L222.7 1400L222.6 1404.4L222.5 1408.7L222.4 1413.1L222.4 1417.4L222.3 1421.8L222.2 1426.2L222.2 1430.5L222.1 1434.9L222.1 1439.3L222.1 1443.7L222 1448.1L222 1452.5L222 1456.9L222 1461.3" stroke-dashoffset="34.7"/>
<path d="M514.7 344.1L512.7 347.2L510.6 350.4L508.5 353.6L506.5 356.8L504.4 360L502.4 363.2L500.4 366.4L498.4 369.6L496.3 372.8L494.3 376L492.3 379.3L490.4 382.5L488.4 385.7L486.4 389L484.4 392.2L482.5 395.5L480.5 398.7L478.6 402L476.6 405.3L474.7 408.5L472.8 411.8L470.8 415.1L468.9 418.4L467 421.7L465.1 425L463.2 428.3L461.4 431.7L459.5 435L457.6 438.3L455.8 441.6L453.9 445L452.1 448.3L450.2 451.7L448.4 455L446.6 458.4L444.8 461.8L443 465.1L441.2 468.5L439.4 471.9L437.6 475.3L435.8 478.7L434 482.1L432.3 485.5" stroke-dashoffset="0"/>
<path d="M364.9 633.7L363.4 637.3L362 641L360.5 644.6L359.1 648.3L357.7 652L356.3 655.7L354.9 659.3L353.5 663L352.1 666.7L350.7 670.4L349.4 674.1L348 677.8L346.6 681.6L345.3 685.3L343.9 689L342.6 692.7L341.3 696.5L339.9 700.2L338.6 704L337.3 707.7L336 711.5L334.7 715.3L333.4 719L332.2 722.8L330.9 726.6L329.6 730.4L328.4 734.2L327.1 738L325.9 741.8L324.7 745.6L323.4 749.4L322.2 753.3L321 757.1L319.8 760.9L318.6 764.8L317.4 768.6L316.2 772.5L315.1 776.3L313.9 780.2L312.7 784L311.6 787.9L310.4 791.8L309.3 795.7L308.2 799.6L307 803.5L305.9 807.4L304.8 811.3L303.7 815.2L302.6 819.1L301.5 823L300.5 827L299.4 830.9L298.3 834.9L297.3 838.8L296.2 842.8L295.2 846.7L294.1 850.7L293.1 854.7L292.1 858.6L291.1 862.6L290.1 866.6L289.1 870.6L288.1 874.6L287.1 878.6L286.1 882.6L285.2 886.6L284.2 890.6L283.3 894.7L282.3 898.7L281.4 902.7L280.4 906.8L279.5 910.8L278.6 914.9L277.7 918.9L276.8 923L275.9 927.1L275 931.2L274.1 935.2L273.3 939.3L272.4 943.4L271.5 947.5L270.7 951.6L269.8 955.7L269 959.9L268.2 964L267.4 968.1L266.5 972.2L265.7 976.4L264.9 980.5L264.1 984.7L263.4 988.8L262.6 993L261.8 997.2L261.1 1001.3L260.3 1005.5L259.6 1009.7L258.8 1013.9L258.1 1018.1L257.4 1022.3L256.6 1026.5L255.9 1030.7L255.2 1034.9L254.5 1039.1L253.8 1043.4L253.2 1047.6L252.5 1051.8L251.8 1056.1L251.2 1060.3L250.5 1064.6L249.9 1068.9L249.2 1073.1L248.6 1077.4L248 1081.7L247.4 1086L246.8 1090.3L246.2 1094.6L245.6 1098.9L245 1103.2L244.4 1107.5L243.8 1111.8L243.3 1116.1L242.7 1120.5L242.2 1124.8L241.6 1129.1L241.1 1133.5L240.6 1137.8L240 1142.2L239.5 1146.6L239 1150.9L238.5 1155.3L238 1159.7L237.6 1164.1L237.1 1168.5L236.6 1172.9L236.2 1177.3L235.7 1181.7L235.3 1186.1L234.8 1190.5L234.4 1194.9L234 1199.4L233.5 1203.8L233.1 1208.3L232.7 1212.7L232.3 1217.2L232 1221.6L231.6 1226.1L231.2 1230.6L230.8 1235L230.5 1239.5L230.1 1244L229.8 1248.5L229.5 1253L229.1 1257.5L228.8 1262L228.5 1266.5L228.2 1271.1L227.9 1275.6L227.6 1280.1L227.3 1284.7L227 1289.2L226.8 1293.7L226.5 1298.3L226.3 1302.9L226 1307.4L225.8 1312L225.5 1316.6L225.3 1321.2L225.1 1325.8L224.9 1330.3L224.7 1334.9L224.5 1339.6L224.3 1344.2L224.1 1348.8L223.9 1353.4L223.8 1358L223.6 1362.7L223.5 1367.3L223.3 1372L223.2 1376.6L223.1 1381.3L222.9 1385.9L222.8 1390.6L222.7 1395.3L222.6 1400L222.5 1404.6L222.4 1409.3L222.4 1414L222.3 1418.7L222.2 1423.4L222.2 1428.1L222.1 1432.9L222.1 1437.6L222.1 1442.3L222 1447.1L222 1451.8L222 1456.5L222 1461.3" stroke-dashoffset="9.9"/>
<path d="M467 334.1L465.1 337.7L463.2 341.4L461.4 345L459.5 348.7L457.6 352.4L455.8 356L453.9 359.7L452.1 363.4L450.2 367.1L448.4 370.8L446.6 374.5L444.8 378.2L443 381.9L441.2 385.6L439.4 389.4L437.6 393.1L435.8 396.8L434 400.6L432.3 404.3L430.5 408.1L428.8 411.8L427 415.6L425.3 419.4L423.6 423.1L421.8 426.9L420.1 430.7L418.4 434.5L416.7 438.3L415 442.1L413.4 445.9L411.7 449.7L410 453.5L408.4 457.4L406.7 461.2L405.1 465L403.4 468.9L401.8 472.7L400.2 476.6L398.5 480.4L396.9 484.3L395.3 488.2L393.7 492L392.2 495.9L390.6 499.8L389 503.7L387.4 507.6L385.9 511.5L384.3 515.4L382.8 519.3L381.3 523.3L379.7 527.2L378.2 531.1L376.7 535.1L375.2 539L373.7 542.9L372.2 546.9L370.7 550.9L369.2 554.8L367.8 558.8L366.3 562.8L364.9 566.8L363.4 570.8L362 574.7L360.5 578.7L359.1 582.8L357.7 586.8L356.3 590.8L354.9 594.8L353.5 598.8L352.1 602.9L350.7 606.9L349.4 611L348 615L346.6 619.1L345.3 623.1L343.9 627.2L342.6 631.3L341.3 635.3L339.9 639.4L338.6 643.5L337.3 647.6L336 651.7L334.7 655.8L333.4 659.9L332.2 664.1L330.9 668.2L329.6 672.3L328.4 676.4L327.1 680.6L325.9 684.7L324.7 688.9L323.4 693L322.2 697.2L321 701.4L319.8 705.6L318.6 709.7L317.4 713.9L316.2 718.1L315.1 722.3L313.9 726.5L312.7 730.7L311.6 734.9L310.4 739.2L309.3 743.4L308.2 747.6L307 751.8L305.9 756.1L304.8 760.3L303.7 764.6L302.6 768.8L301.5 773.1L300.5 777.4L299.4 781.7L298.3 785.9L297.3 790.2L296.2 794.5L295.2 798.8L294.1 803.1L293.1 807.4L292.1 811.8L291.1 816.1L290.1 820.4L289.1 824.7L288.1 829.1L287.1 833.4L286.1 837.8L285.2 842.1L284.2 846.5L283.3 850.8L282.3 855.2L281.4 859.6L280.4 864L279.5 868.4L278.6 872.8L277.7 877.2L276.8 881.6L275.9 886L275 890.4L274.1 894.8L273.3 899.2L272.4 903.7L271.5 908.1L270.7 912.6L269.8 917L269 921.5L268.2 925.9L267.4 930.4L266.5 934.9L265.7 939.4L264.9 943.8L264.1 948.3L263.4 952.8L262.6 957.3L261.8 961.8L261.1 966.3L260.3 970.9L259.6 975.4L258.8 979.9L258.1 984.5L257.4 989L256.6 993.5L255.9 998.1L255.2 1002.6L254.5 1007.2L253.8 1011.8L253.2 1016.4L252.5 1020.9L251.8 1025.5L251.2 1030.1L250.5 1034.7L249.9 1039.3L249.2 1043.9L248.6 1048.5L248 1053.2L247.4 1057.8L246.8 1062.4L246.2 1067L245.6 1071.7L245 1076.3L244.4 1081L243.8 1085.6L243.3 1090.3L242.7 1095L242.2 1099.7L241.6 1104.3L241.1 1109L240.6 1113.7L240 1118.4L239.5 1123.1L239 1127.8L238.5 1132.5L238 1137.3L237.6 1142L237.1 1146.7L236.6 1151.5L236.2 1156.2L235.7 1161L235.3 1165.7L234.8 1170.5L234.4 1175.2L234 1180L233.5 1184.8L233.1 1189.6L232.7 1194.4L232.3 1199.2L232 1204L231.6 1208.8L231.2 1213.6L230.8 1218.4L230.5 1223.2L230.1 1228L229.8 1232.9L229.5 1237.7L229.1 1242.6L228.8 1247.4L228.5 1252.3L228.2 1257.1L227.9 1262L227.6 1266.9L227.3 1271.7L227 1276.6L226.8 1281.5L226.5 1286.4L226.3 1291.3L226 1296.2L225.8 1301.1L225.5 1306L225.3 1311L225.1 1315.9L224.9 1320.8L224.7 1325.8L224.5 1330.7L224.3 1335.7L224.1 1340.6L223.9 1345.6L223.8 1350.6L223.6 1355.5L223.5 1360.5L223.3 1365.5L223.2 1370.5L223.1 1375.5L222.9 1380.5L222.8 1385.5L222.7 1390.5L222.6 1395.5L222.5 1400.6L222.4 1405.6L222.4 1410.6L222.3 1415.7L222.2 1420.7L222.2 1425.8L222.1 1430.8L222.1 1435.9L222.1 1441L222 1446L222 1451.1L222 1456.2L222 1461.3" stroke-dashoffset="0"/>
<path d="M430.5 327.2L428.8 331.3L427 335.4L425.3 339.5L423.6 343.6L421.8 347.8L420.1 351.9L418.4 356L416.7 360.2L415 364.3L413.4 368.4L411.7 372.6L410 376.8L408.4 380.9L406.7 385.1L405.1 389.3L403.4 393.5L401.8 397.6L400.2 401.8L398.5 406L396.9 410.2L395.3 414.5L393.7 418.7L392.2 422.9L390.6 427.1L389 431.4L387.4 435.6L385.9 439.8L384.3 444.1L382.8 448.3L381.3 452.6L379.7 456.9L378.2 461.1L376.7 465.4L375.2 469.7L373.7 474L372.2 478.3L370.7 482.6L369.2 486.9L367.8 491.2L366.3 495.5L364.9 499.8L363.4 504.2L362 508.5L360.5 512.8L359.1 517.2L357.7 521.5L356.3 525.9L354.9 530.3L353.5 534.6L352.1 539L350.7 543.4L349.4 547.8L348 552.2L346.6 556.6L345.3 561L343.9 565.4L342.6 569.8L341.3 574.2L339.9 578.6L338.6 583.1L337.3 587.5L336 591.9L334.7 596.4L333.4 600.8L332.2 605.3L330.9 609.8L329.6 614.2L328.4 618.7L327.1 623.2L325.9 627.7L324.7 632.2L323.4 636.7L322.2 641.2L321 645.7L319.8 650.2L318.6 654.7L317.4 659.2L316.2 663.8L315.1 668.3L313.9 672.8L312.7 677.4L311.6 681.9L310.4 686.5L309.3 691.1L308.2 695.6L307 700.2L305.9 704.8L304.8 709.4L303.7 714L302.6 718.6L301.5 723.2L300.5 727.8L299.4 732.4L298.3 737L297.3 741.7L296.2 746.3L295.2 750.9L294.1 755.6L293.1 760.2L292.1 764.9L291.1 769.5L290.1 774.2L289.1 778.9L288.1 783.6L287.1 788.2L286.1 792.9L285.2 797.6L284.2 802.3L283.3 807L282.3 811.7L281.4 816.5L280.4 821.2L279.5 825.9L278.6 830.6L277.7 835.4L276.8 840.1L275.9 844.9L275 849.6L274.1 854.4L273.3 859.2L272.4 863.9L271.5 868.7L270.7 873.5L269.8 878.3L269 883.1L268.2 887.9L267.4 892.7L266.5 897.5L265.7 902.3L264.9 907.2L264.1 912L263.4 916.8L262.6 921.7L261.8 926.5L261.1 931.4L260.3 936.2L259.6 941.1L258.8 945.9L258.1 950.8L257.4 955.7L256.6 960.6L255.9 965.5L255.2 970.4L254.5 975.3L253.8 980.2L253.2 985.1L252.5 990L251.8 994.9L251.2 999.9L250.5 1004.8L249.9 1009.8L249.2 1014.7L248.6 1019.7L248 1024.6L247.4 1029.6L246.8 1034.6L246.2 1039.5L245.6 1044.5L245 1049.5L244.4 1054.5L243.8 1059.5L243.3 1064.5L242.7 1069.5L242.2 1074.5L241.6 1079.5L241.1 1084.6L240.6 1089.6L240 1094.6L239.5 1099.7L239 1104.7L238.5 1109.8L238 1114.9L237.6 1119.9L237.1 1125L236.6 1130.1L236.2 1135.1L235.7 1140.2L235.3 1145.3L234.8 1150.4L234.4 1155.5L234 1160.6L233.5 1165.8L233.1 1170.9L232.7 1176L232.3 1181.2L232 1186.3L231.6 1191.4L231.2 1196.6L230.8 1201.7L230.5 1206.9L230.1 1212.1L229.8 1217.2L229.5 1222.4L229.1 1227.6L228.8 1232.8L228.5 1238L228.2 1243.2L227.9 1248.4L227.6 1253.6L227.3 1258.8L227 1264.1L226.8 1269.3L226.5 1274.5L226.3 1279.8L226 1285L225.8 1290.3L225.5 1295.5L225.3 1300.8L225.1 1306.1L224.9 1311.3L224.7 1316.6L224.5 1321.9L224.3 1327.2L224.1 1332.5L223.9 1337.8L223.8 1343.1L223.6 1348.4L223.5 1353.7L223.3 1359.1L223.2 1364.4L223.1 1369.7L222.9 1375.1L222.8 1380.4L222.7 1385.8L222.6 1391.1L222.5 1396.5L222.4 1401.9L222.4 1407.2L222.3 1412.6L222.2 1418L222.2 1423.4L222.1 1428.8L222.1 1434.2L222.1 1439.6L222 1445L222 1450.4L222 1455.9L222 1461.3" stroke-dashoffset="0"/>
<path d="M222 1461.3L222 1455.2L222 1449.1L222 1443L222.1 1436.9L222.1 1430.8L222.1 1424.7L222.2 1418.6L222.2 1412.6L222.3 1406.5L222.4 1400.4L222.4 1394.4L222.5 1388.3L222.6 1382.3L222.7 1376.3L222.8 1370.2L222.9 1364.2L223.1 1358.2L223.2 1352.2L223.3 1346.1L223.5 1340.1L223.6 1334.1L223.8 1328.1L223.9 1322.2L224.1 1316.2L224.3 1310.2L224.5 1304.2L224.7 1298.3L224.9 1292.3L225.1 1286.3L225.3 1280.4L225.5 1274.5L225.8 1268.5L226 1262.6L226.3 1256.7L226.5 1250.7L226.8 1244.8L227 1238.9L227.3 1233L227.6 1227.1L227.9 1221.2L228.2 1215.3L228.5 1209.5L228.8 1203.6L229.1 1197.7L229.5 1191.9L229.8 1186L230.1 1180.1L230.5 1174.3L230.8 1168.5L231.2 1162.6L231.6 1156.8L232 1151L232.3 1145.1L232.7 1139.3L233.1 1133.5L233.5 1127.7L234 1121.9L234.4 1116.1L234.8 1110.3L235.3 1104.6L235.7 1098.8L236.2 1093L236.6 1087.3L237.1 1081.5L237.6 1075.8L238 1070L238.5 1064.3L239 1058.5L239.5 1052.8L240 1047.1L240.6 1041.4L241.1 1035.7L241.6 1029.9L242.2 1024.2L242.7 1018.6L243.3 1012.9L243.8 1007.2L244.4 1001.5L245 995.8L245.6 990.2L246.2 984.5L246.8 978.8L247.4 973.2L248 967.6L248.6 961.9L249.2 956.3L249.9 950.7L250.5 945L251.2 939.4L251.8 933.8L252.5 928.2L253.2 922.6L253.8 917L254.5 911.4L255.2 905.8L255.9 900.3L256.6 894.7L257.4 889.1L258.1 883.6L258.8 878L259.6 872.5L260.3 866.9L261.1 861.4L261.8 855.8L262.6 850.3L263.4 844.8L264.1 839.3L264.9 833.8L265.7 828.3L266.5 822.8L267.4 817.3L268.2 811.8L269 806.3L269.8 800.8L270.7 795.4L271.5 789.9L272.4 784.4L273.3 779L274.1 773.5L275 768.1L275.9 762.7L276.8 757.2L277.7 751.8L278.6 746.4L279.5 741L280.4 735.6L281.4 730.2L282.3 724.8L283.3 719.4L284.2 714L285.2 708.6L286.1 703.2L287.1 697.9L288.1 692.5L289.1 687.2L290.1 681.8L291.1 676.5L292.1 671.1L293.1 665.8L294.1 660.5L295.2 655.1L296.2 649.8L297.3 644.5L298.3 639.2L299.4 633.9L300.5 628.6L301.5 623.3L302.6 618L303.7 612.7L304.8 607.5L305.9 602.2L307 596.9L308.2 591.7L309.3 586.4L310.4 581.2L311.6 576L312.7 570.7L313.9 565.5L315.1 560.3L316.2 555.1L317.4 549.8L318.6 544.6L319.8 539.4L321 534.2L322.2 529.1L323.4 523.9L324.7 518.7L325.9 513.5L327.1 508.4L328.4 503.2L329.6 498L330.9 492.9L332.2 487.8L333.4 482.6L334.7 477.5L336 472.4L337.3 467.2L338.6 462.1L339.9 457L341.3 451.9L342.6 446.8L343.9 441.7L345.3 436.6L346.6 431.6L348 426.5L349.4 421.4L350.7 416.3L352.1 411.3L353.5 406.2L354.9 401.2L356.3 396.1L357.7 391.1L359.1 386.1L360.5 381L362 376L363.4 371L364.9 366L366.3 361L367.8 356L369.2 351L370.7 346L372.2 341.1L373.7 336.1L375.2 331.1L376.7 326.1L378.2 321.2" stroke-dashoffset="0"/>
<path d="M345.3 312.3L343.9 318.1L342.6 323.8L341.3 329.6L339.9 335.4L338.6 341.2L337.3 347L336 352.8L334.7 358.6L333.4 364.4L332.2 370.2L330.9 376L329.6 381.9L328.4 387.7L327.1 393.5L325.9 399.4L324.7 405.2L323.4 411.1L322.2 417L321 422.8L319.8 428.7L318.6 434.6L317.4 440.5L316.2 446.4L315.1 452.3L313.9 458.2L312.7 464.1L311.6 470L310.4 475.9L309.3 481.8L308.2 487.7L307 493.7L305.9 499.6L304.8 505.6L303.7 511.5L302.6 517.5L301.5 523.4L300.5 529.4L299.4 535.4L298.3 541.4L297.3 547.4L296.2 553.3L295.2 559.3L294.1 565.3L293.1 571.4L292.1 577.4L291.1 583.4L290.1 589.4L289.1 595.4L288.1 601.5L287.1 607.5L286.1 613.6L285.2 619.6L284.2 625.7L283.3 631.7L282.3 637.8L281.4 643.9L280.4 650L279.5 656.1L278.6 662.2L277.7 668.3L276.8 674.4L275.9 680.5L275 686.6L274.1 692.7L273.3 698.8L272.4 705L271.5 711.1L270.7 717.2L269.8 723.4L269 729.5L268.2 735.7L267.4 741.9L266.5 748L265.7 754.2L264.9 760.4L264.1 766.6L263.4 772.8L262.6 779L261.8 785.2L261.1 791.4L260.3 797.6L259.6 803.8L258.8 810.1L258.1 816.3L257.4 822.5L256.6 828.8L255.9 835L255.2 841.3L254.5 847.6L253.8 853.8L253.2 860.1L252.5 866.4L251.8 872.7L251.2 879L250.5 885.2L249.9 891.5L249.2 897.9L248.6 904.2L248 910.5L247.4 916.8L246.8 923.1L246.2 929.5L245.6 935.8L245 942.2L244.4 948.5L243.8 954.9L243.3 961.2L242.7 967.6L242.2 974L241.6 980.4L241.1 986.7L240.6 993.1L240 999.5L239.5 1005.9L239 1012.3L238.5 1018.8L238 1025.2L237.6 1031.6L237.1 1038L236.6 1044.5L236.2 1050.9L235.7 1057.4L235.3 1063.8L234.8 1070.3L234.4 1076.7L234 1083.2L233.5 1089.7L233.1 1096.2L232.7 1102.6L232.3 1109.1L232 1115.6L231.6 1122.1L231.2 1128.6L230.8 1135.2L230.5 1141.7L230.1 1148.2L229.8 1154.7L229.5 1161.3L229.1 1167.8L228.8 1174.4L228.5 1180.9L228.2 1187.5L227.9 1194.1L227.6 1200.6L227.3 1207.2L227 1213.8L226.8 1220.4L226.5 1227L226.3 1233.6L226 1240.2L225.8 1246.8L225.5 1253.4L225.3 1260L225.1 1266.6L224.9 1273.3L224.7 1279.9L224.5 1286.6L224.3 1293.2L224.1 1299.9L223.9 1306.5L223.8 1313.2L223.6 1319.9L223.5 1326.6L223.3 1333.2L223.2 1339.9L223.1 1346.6L222.9 1353.3L222.8 1360L222.7 1366.7L222.6 1373.5L222.5 1380.2L222.4 1386.9L222.4 1393.6L222.3 1400.4L222.2 1407.1L222.2 1413.9L222.1 1420.6L222.1 1427.4L222.1 1434.2L222 1440.9L222 1447.7L222 1454.5L222 1461.3" stroke-dashoffset="0"/>
<path d="M222 1461.3L222 1453.8L222 1446.4L222 1438.9L222.1 1431.5L222.1 1424L222.1 1416.6L222.2 1409.1L222.2 1401.7L222.3 1394.3L222.4 1386.8L222.4 1379.4L222.5 1372L222.6 1364.6L222.7 1357.2L222.8 1349.8L222.9 1342.5L223.1 1335.1L223.2 1327.7L223.3 1320.3L223.5 1313L223.6 1305.6L223.8 1298.3L223.9 1290.9L224.1 1283.6L224.3 1276.2L224.5 1268.9L224.7 1261.6L224.9 1254.3L225.1 1246.9L225.3 1239.6L225.5 1232.3L225.8 1225L226 1217.8L226.3 1210.5L226.5 1203.2L226.8 1195.9L227 1188.6L227.3 1181.4L227.6 1174.1L227.9 1166.9L228.2 1159.6L228.5 1152.4L228.8 1145.2L229.1 1137.9L229.5 1130.7L229.8 1123.5L230.1 1116.3L230.5 1109.1L230.8 1101.9L231.2 1094.7L231.6 1087.5L232 1080.3L232.3 1073.1L232.7 1066L233.1 1058.8L233.5 1051.6L234 1044.5L234.4 1037.3L234.8 1030.2L235.3 1023L235.7 1015.9L236.2 1008.8L236.6 1001.7L237.1 994.5L237.6 987.4L238 980.3L238.5 973.2L239 966.1L239.5 959.1L240 952L240.6 944.9L241.1 937.8L241.6 930.8L242.2 923.7L242.7 916.6L243.3 909.6L243.8 902.6L244.4 895.5L245 888.5L245.6 881.5L246.2 874.4L246.8 867.4L247.4 860.4L248 853.4L248.6 846.4L249.2 839.4L249.9 832.4L250.5 825.5L251.2 818.5L251.8 811.5L252.5 804.6L253.2 797.6L253.8 790.6L254.5 783.7L255.2 776.8L255.9 769.8L256.6 762.9L257.4 756L258.1 749L258.8 742.1L259.6 735.2L260.3 728.3L261.1 721.4L261.8 714.5L262.6 707.7L263.4 700.8L264.1 693.9L264.9 687L265.7 680.2L266.5 673.3L267.4 666.5L268.2 659.6L269 652.8L269.8 645.9L270.7 639.1L271.5 632.3L272.4 625.5L273.3 618.7L274.1 611.9L275 605.1L275.9 598.3L276.8 591.5L277.7 584.7L278.6 577.9L279.5 571.1L280.4 564.4L281.4 557.6L282.3 550.9L283.3 544.1L284.2 537.4L285.2 530.6L286.1 523.9L287.1 517.2L288.1 510.4L289.1 503.7L290.1 497L291.1 490.3L292.1 483.6L293.1 476.9L294.1 470.2L295.2 463.5L296.2 456.9L297.3 450.2L298.3 443.5L299.4 436.9L300.5 430.2L301.5 423.6L302.6 416.9L303.7 410.3L304.8 403.7L305.9 397L307 390.4L308.2 383.8L309.3 377.2L310.4 370.6L311.6 364L312.7 357.4L313.9 350.8L315.1 344.2L316.2 337.7L317.4 331.1L318.6 324.5L319.8 318L321 311.4" stroke-dashoffset="0"/>
<path d="M222 1461.3L222 1453.2L222 1445L222 1436.9L222.1 1428.7L222.1 1420.6L222.1 1412.5L222.2 1404.4L222.2 1396.3L222.3 1388.2L222.4 1380.1L222.4 1372L222.5 1363.9L222.6 1355.8L222.7 1347.7L222.8 1339.6L222.9 1331.6L223.1 1323.5L223.2 1315.5L223.3 1307.4L223.5 1299.4L223.6 1291.3L223.8 1283.3L223.9 1275.3L224.1 1267.3L224.3 1259.2L224.5 1251.2L224.7 1243.2L224.9 1235.2L225.1 1227.2L225.3 1219.3L225.5 1211.3L225.8 1203.3L226 1195.3L226.3 1187.4L226.5 1179.4L226.8 1171.5L227 1163.5L227.3 1155.6L227.6 1147.6L227.9 1139.7L228.2 1131.8L228.5 1123.9L228.8 1115.9L229.1 1108L229.5 1100.1L229.8 1092.2L230.1 1084.3L230.5 1076.5L230.8 1068.6L231.2 1060.7L231.6 1052.8L232 1045L232.3 1037.1L232.7 1029.3L233.1 1021.4L233.5 1013.6L234 1005.8L234.4 997.9L234.8 990.1L235.3 982.3L235.7 974.5L236.2 966.7L236.6 958.9L237.1 951.1L237.6 943.3L238 935.5L238.5 927.7L239 919.9L239.5 912.2L240 904.4L240.6 896.7L241.1 888.9L241.6 881.2L242.2 873.4L242.7 865.7L243.3 858L243.8 850.2L244.4 842.5L245 834.8L245.6 827.1L246.2 819.4L246.8 811.7L247.4 804L248 796.3L248.6 788.7L249.2 781L249.9 773.3L250.5 765.7L251.2 758L251.8 750.4L252.5 742.7L253.2 735.1L253.8 727.5L254.5 719.8L255.2 712.2L255.9 704.6L256.6 697L257.4 689.4L258.1 681.8L258.8 674.2L259.6 666.6L260.3 659L261.1 651.5L261.8 643.9L262.6 636.3L263.4 628.8L264.1 621.2L264.9 613.7L265.7 606.1L266.5 598.6L267.4 591.1L268.2 583.5L269 576L269.8 568.5L270.7 561L271.5 553.5L272.4 546L273.3 538.5L274.1 531L275 523.5L275.9 516.1L276.8 508.6L277.7 501.1L278.6 493.7L279.5 486.2L280.4 478.8L281.4 471.3L282.3 463.9L283.3 456.5L284.2 449L285.2 441.6L286.1 434.2L287.1 426.8L288.1 419.4L289.1 412L290.1 404.6L291.1 397.2L292.1 389.9L293.1 382.5L294.1 375.1L295.2 367.8L296.2 360.4L297.3 353L298.3 345.7L299.4 338.4L300.5 331L301.5 323.7L302.6 316.4L303.7 309.1" stroke-dashoffset="0"/>
</g>
<g fill="none" stroke-width="9.4">
<path stroke="#4121b3" d="M221 288.7L222 288.9L223 289.1L223.9 289.3L224.9 289.4L225.9 289.6L226.9 289.8L227.9 290L228.8 290.2L229.8 290.3L230.8 290.5L231.8 290.7L232.8 290.9L233.7 291.1L234.7 291.2L235.7 291.4L236.7 291.6L237.6 291.8L238.6 291.9L239.6 292.1L240.6 292.3L241.6 292.5L242.5 292.7L243.5 292.8L244.5 293L245.5 293.2L246.5 293.4L247.4 293.6L248.4 293.7L249.4 293.9"/>
<path stroke="#4545ea" d="M249.4 293.9L251.7 294.3L253.9 294.7L256.2 295.2L258.5 295.6L260.7 296L263 296.4L265.3 296.8L267.6 297.2L269.8 297.6L272.1 298.1L274.4 298.5L276.6 298.9L278.9 299.3L281.2 299.7L283.4 300.1L285.7 300.5L288 301L290.2 301.4L292.5 301.8L294.8 302.2L297 302.6L299.3 303L301.6 303.5L303.9 303.9L306.1 304.3L308.4 304.7L310.7 305.1L312.9 305.5L315.2 305.9"/>
<path stroke="#0b6ff7" d="M315.2 305.9L319.2 306.7L323.2 307.4L327.2 308.1L331.2 308.9L335.2 309.6L339.2 310.3L343.2 311.1L347.3 311.8L351.3 312.6L355.3 313.3L359.3 314L363.3 314.8L367.3 315.5L371.3 316.2L375.3 317L379.3 317.7L383.3 318.4L387.3 319.2L391.3 319.9L395.3 320.6L399.3 321.4L403.4 322.1L407.4 322.9L411.4 323.6L415.4 324.3L419.4 325.1L423.4 325.8L427.4 326.5L431.4 327.3"/>
<path stroke="#1798e6" d="M431.4 327.3L437 328.3L442.6 329.3L448.1 330.4L453.7 331.4L459.3 332.4L464.9 333.5L470.5 334.5L476.1 335.5L481.6 336.5L487.2 337.6L492.8 338.6L498.4 339.6L504 340.7L509.6 341.7L515.1 342.7L520.7 343.8L526.3 344.8L531.9 345.8L537.5 346.9L543.1 347.9L548.6 348.9L554.2 350L559.8 351L565.4 352L571 353.1L576.6 354.1L582.1 355.1L587.7 356.2L593.3 357.2"/>
<path stroke="#05b4d0" d="M593.3 357.2L600.4 358.5L607.5 359.8L614.6 361.2L621.7 362.5L628.8 363.8L635.9 365.1L643 366.4L650.1 367.8L657.2 369.1L664.3 370.4L671.4 371.7L678.5 373L685.6 374.4L692.7 375.7L699.9 377L707 378.3L714.1 379.7L721.2 381L728.3 382.3L735.4 383.6L742.5 385L749.6 386.3L756.7 387.6L763.8 389L770.9 390.3L778 391.6L785.1 392.9L792.2 394.3L799.3 395.6"/>
<path stroke="#06c49d" d="M799.3 395.6L807.9 397.2L816.6 398.8L825.2 400.4L833.8 402.1L842.5 403.7L851.1 405.3L859.7 406.9L868.3 408.5L877 410.2L885.6 411.8L894.2 413.4L902.9 415L911.5 416.7L920.1 418.3L928.8 419.9L937.4 421.5L946 423.2L954.7 424.8L963.3 426.4L971.9 428L980.6 429.7L989.2 431.3L997.8 432.9L1006.4 434.6L1015.1 436.2L1023.7 437.8L1032.3 439.5L1041 441.1L1049.6 442.7"/>
<path stroke="#ff0000" d="M1049.6 442.7L1059.7 444.6L1069.8 446.6L1080 448.5L1090.1 450.4L1100.2 452.3L1110.3 454.2L1120.4 456.2L1130.5 458.1L1140.7 460L1150.8 461.9L1160.9 463.9L1171 465.8L1181.1 467.7L1191.2 469.6L1201.4 471.6L1211.5 473.5L1221.6 475.4L1231.7 477.4L1241.8 479.3L1251.9 481.2L1262.1 483.2L1272.2 485.1L1282.3 487L1292.4 489L1302.5 490.9L1312.6 492.8L1322.8 494.8L1332.9 496.7L1343 498.7"/>
<path stroke="#e6b80a" d="M1343 498.7L1354.5 500.9L1366.1 503.1L1377.6 505.3L1389.1 507.5L1400.6 509.7L1412.2 511.9L1423.7 514.2L1435.2 516.4L1446.7 518.6L1458.3 520.8L1469.8 523L1481.3 525.3L1492.9 527.5L1504.4 529.7L1515.9 531.9L1527.4 534.2L1539 536.4L1550.5 538.6L1562 540.9L1573.6 543.1L1585.1 545.3L1596.6 547.6L1608.1 549.8L1619.7 552L1631.2 554.3L1642.7 556.5L1654.2 558.8L1665.8 561L1677.3 563.3"/>
<path stroke="#fecb0b" d="M1677.3 563.3L1689 565.5L1700.8 567.8L1712.5 570.1L1724.3 572.4L1736 574.7L1747.7 577L1759.5 579.3L1771.2 581.6L1782.9 583.9L1794.7 586.2L1806.4 588.5L1818.2 590.8L1829.9 593.1L1841.6 595.4L1853.4 597.7L1865.1 600L1876.8 602.3L1888.6 604.6L1900.3 606.9L1912.1 609.2L1923.8 611.5L1935.5 613.8L1947.3 616.1L1959 618.4L1970.7 620.7L1982.5 623.1L1994.2 625.4L2006 627.7L2017.7 630"/>
</g>
<path fill="none" stroke="#4121b3" stroke-width="10.0" stroke-dasharray="27 25.8" d="M221 288.7L230 290.4L239.1 292L248.1 293.7L257.1 295.3L266.1 297L275.2 298.6L284.2 300.3L293.2 301.9L302.3 303.6L311.3 305.2L320.3 306.9L329.3 308.5L338.4 310.2L347.4 311.8L356.4 313.5L365.5 315.2L374.5 316.8L383.5 318.5L392.5 320.1L401.6 321.8L410.6 323.5L419.6 325.1L428.7 326.8L437.7 328.4L446.7 330.1L455.7 331.8L464.8 333.4L473.8 335.1L482.8 336.8L491.9 338.4L500.9 340.1L509.9 341.8L518.9 343.4L528 345.1L537 346.8L546 348.4L555.1 350.1L564.1 351.8L573.1 353.5L582.1 355.1L591.2 356.8L600.2 358.5L609.2 360.2L618.3 361.8L627.3 363.5L636.3 365.2L645.3 366.9L654.4 368.6L663.4 370.2L672.4 371.9L681.5 373.6L690.5 375.3L699.5 377L708.5 378.6L717.6 380.3L726.6 382L735.6 383.7L744.7 385.4L753.7 387.1L762.7 388.8L771.7 390.4L780.8 392.1L789.8 393.8L798.8 395.5L807.9 397.2L816.9 398.9L825.9 400.6L834.9 402.3L844 404L853 405.7L862 407.4L871.1 409.1L880.1 410.8L889.1 412.5L898.1 414.1L907.2 415.8L916.2 417.5L925.2 419.2L934.3 420.9L943.3 422.6L952.3 424.3L961.3 426.1L970.4 427.8L979.4 429.5L988.4 431.2L997.5 432.9L1006.5 434.6L1015.5 436.3L1024.5 438L1033.6 439.7L1042.6 441.4L1051.6 443.1L1060.7 444.8L1069.7 446.5L1078.7 448.2L1087.7 450L1096.8 451.7L1105.8 453.4L1114.8 455.1L1123.9 456.8L1132.9 458.5L1141.9 460.2L1151 462L1160 463.7L1169 465.4L1178 467.1L1187.1 468.8L1196.1 470.6L1205.1 472.3L1214.2 474L1223.2 475.7L1232.2 477.4L1241.2 479.2L1250.3 480.9L1259.3 482.6L1268.3 484.3L1277.4 486.1L1286.4 487.8L1295.4 489.5L1304.4 491.3L1313.5 493L1322.5 494.7L1331.5 496.5L1340.6 498.2L1349.6 499.9L1358.6 501.6L1367.6 503.4L1376.7 505.1L1385.7 506.8L1394.7 508.6L1403.8 510.3L1412.8 512.1L1421.8 513.8L1430.8 515.5L1439.9 517.3L1448.9 519L1457.9 520.8L1467 522.5L1476 524.2L1485 526L1494 527.7L1503.1 529.5L1512.1 531.2L1521.1 533L1530.2 534.7L1539.2 536.4L1548.2 538.2L1557.2 539.9L1566.3 541.7L1575.3 543.4L1584.3 545.2L1593.4 546.9L1602.4 548.7L1611.4 550.4L1620.4 552.2L1629.5 554L1638.5 555.7L1647.5 557.5L1656.6 559.2L1665.6 561L1674.6 562.7L1683.6 564.5L1692.7 566.2L1701.7 568L1710.7 569.8L1719.8 571.5L1728.8 573.3L1737.8 575L1746.8 576.8L1755.9 578.6L1764.9 580.3L1773.9 582.1L1783 583.9L1792 585.6L1801 587.4L1810 589.2L1819.1 590.9L1828.1 592.7L1837.1 594.5L1846.2 596.2L1855.2 598L1864.2 599.8L1873.2 601.6L1882.3 603.3L1891.3 605.1L1900.3 606.9L1909.4 608.7L1918.4 610.4L1927.4 612.2L1936.4 614L1945.5 615.8L1954.5 617.5L1963.5 619.3L1972.6 621.1L1981.6 622.9L1990.6 624.7L1999.6 626.4L2008.7 628.2L2017.7 630"/>
<g fill="none" stroke-width="10">
<path stroke="#4545ea" d="M249.4 293.9L245.8 650L244.7 1000L243.3 1461.3"/>
<path stroke="#0b6ff7" d="M315.2 305.9L313.8 667"/>
<path stroke="#0b6ff7" d="M312.8 814L311.4 1100L309.4 1461.3"/>
<path stroke="#1798e6" d="M431.4 327.3L427 650L426.6 771"/>
<path stroke="#1798e6" d="M424.2 917.5L419.8 1250L417.8 1461.3"/>
<path stroke="#05b4d0" d="M593.3 357.2L587.9 650L578 1040.5"/>
<path stroke="#05b4d0" d="M575.2 1187L573.4 1250L569.5 1461.3"/>
<path stroke="#06c49d" d="M799.3 395.6L792 650L777 1074.8"/>
<path stroke="#06c49d" d="M771 1221L770.5 1250L763.5 1461.3"/>
<path stroke="#e6b80a" d="M1343 498.7L1330 670.8L1313 1020"/>
<path stroke="#e6b80a" d="M1298.3 1163.9L1276 1461.3"/>
<path stroke="#fecb0b" d="M1677.3 563.3L1639 960L1627 1104.4"/>
<path stroke="#fecb0b" d="M1606 1336L1600.6 1400L1595 1461.3"/>
<path stroke="#f8f80f" d="M2017 896L2005.5 1000L1975.6 1222.4"/>
<path stroke="#f8f80f" d="M1963.7 1366.8L1952 1461.3"/>
<path stroke="#ff0000" d="M1049.6 442.7L1037 700L1022.8 1004.8"/>
<path stroke="#ff0000" d="M1014.8 1151.9L998.7 1461.3"/>
</g>
<g fill="none" stroke="#0a1ff0" stroke-width="9.4" stroke-dasharray="27 25.8">
<path d="M229.7 1459.1L229.7 1457.2L229.7 1455.4L229.7 1453.6L229.7 1451.8L229.7 1450L229.7 1448.2L229.8 1446.4L229.8 1444.7L229.8 1442.9L229.9 1441.1L229.9 1439.3L230 1437.5L230 1435.8L230.1 1434L230.2 1432.2L230.2 1430.5L230.3 1428.7L230.4 1427L230.5 1425.2L230.5 1423.5L230.6 1421.7L230.7 1420L230.8 1418.2L230.9 1416.5L231 1414.8L231.2 1413L231.3 1411.3L231.4 1409.6L231.5 1407.9L231.7 1406.1L231.8 1404.4L231.9 1402.7L232.1 1401L232.2 1399.3L232.4 1397.6L232.5 1395.9L232.7 1394.2L232.9 1392.5L233 1390.8L233.2 1389.1L233.4 1387.5L233.6 1385.8L233.8 1384.1L234 1382.4L234.1 1380.8L234.3 1379.1L234.6 1377.4L234.8 1375.8L235 1374.1L235.2 1372.5L235.4 1370.8L235.7 1369.2L235.9 1367.5L236.1 1365.9L236.4 1364.2L236.6 1362.6L236.9 1361L237.1 1359.4L237.4 1357.7L237.6 1356.1L237.9 1354.5L238.2 1352.9L238.5 1351.3L238.7 1349.7L239 1348.1L239.3 1346.4L239.6 1344.9L239.9 1343.3L240.2 1341.7L240.5 1340.1L240.8 1338.5L241.1 1336.9L241.5 1335.3L241.8 1333.8L242.1 1332.2L242.5 1330.6L242.8 1329L243.1 1327.5L243.5 1325.9L243.8 1324.4L244.2 1322.8L244.6 1321.3L244.9 1319.7L245.3 1318.2L245.7 1316.6L246 1315.1L246.4 1313.6L246.8 1312L247.2 1310.5L247.6 1309L248 1307.5L248.4 1306L248.8 1304.4L249.2 1302.9L249.7 1301.4L250.1 1299.9L250.5 1298.4L250.9 1296.9L251.4 1295.4L251.8 1293.9L252.3 1292.4L252.7 1291L253.2 1289.5L253.6 1288L254.1 1286.5L254.6 1285.1L255 1283.6L255.5 1282.1L256 1280.7L256.5 1279.2L257 1277.8L257.5 1276.3L258 1274.9L258.5 1273.4L259 1272L259.5 1270.5L260 1269.1L260.5 1267.7L261 1266.2L261.6 1264.8L262.1 1263.4L262.6 1262L263.2 1260.5L263.7 1259.1L264.3 1257.7L264.8 1256.3L265.4 1254.9L266 1253.5L266.5 1252.1L267.1 1250.7L267.7 1249.3L268.3 1248L268.9 1246.6L269.5 1245.2L270 1243.8L270.6 1242.4L271.3 1241.1L271.9 1239.7L272.5 1238.3L273.1 1237L273.7 1235.6L274.3 1234.3L275 1232.9L275.6 1231.6L276.3 1230.2L276.9 1228.9L277.5 1227.6L278.2 1226.2L278.9 1224.9L279.5 1223.6L280.2 1222.2L280.9 1220.9L281.5 1219.6L282.2 1218.3L282.9 1217L283.6 1215.7L284.3 1214.4L285 1213.1L285.7 1211.8L286.4 1210.5L287.1 1209.2L287.8 1207.9L288.5 1206.6L289.3 1205.3L290 1204.1L290.7 1202.8L291.5 1201.5L292.2 1200.3L293 1199L293.7 1197.7L294.5 1196.5L295.2 1195.2L296 1194L296.8 1192.7L297.5 1191.5L298.3 1190.2L299.1 1189L299.9 1187.8L300.7 1186.5L301.5 1185.3L302.3 1184.1L303.1 1182.9L303.9 1181.6L304.7 1180.4L305.5 1179.2L306.3 1178L307.1 1176.8L308 1175.6L308.8 1174.4L309.7 1173.2L310.5 1172L311.3 1170.8L312.2 1169.7L313.1 1168.5L313.9 1167.3L314.8 1166.1L315.7 1165L316.5 1163.8L317.4 1162.6L318.3 1161.5L319.2 1160.3L320.1 1159.1L321 1158L321.9 1156.9L322.8 1155.7L323.7 1154.6L324.6 1153.4L325.5 1152.3L326.5 1151.2L327.4 1150L328.3 1148.9L329.3 1147.8L330.2 1146.7L331.1 1145.6L332.1 1144.4L333 1143.3L334 1142.2L335 1141.1L335.9 1140L336.9 1138.9L337.9 1137.9L338.9 1136.8L339.9 1135.7L340.8 1134.6L341.8 1133.5L342.8 1132.4L343.8 1131.4L344.9 1130.3L345.9 1129.2L346.9 1128.2L347.9 1127.1L348.9 1126.1L350 1125L351 1124L352 1122.9L353.1 1121.9L354.1 1120.9L355.2 1119.8L356.2 1118.8L357.3 1117.8L358.4 1116.7L359.4 1115.7L360.5 1114.7L361.6 1113.7L362.7 1112.7L363.8 1111.7L364.9 1110.7L366 1109.7L367.1 1108.7L368.2 1107.7L369.3 1106.7L370.4 1105.7L371.5 1104.7L372.6 1103.7L373.8 1102.8L374.9 1101.8L376 1100.8L377.2 1099.9L378.3 1098.9L379.5 1097.9L380.6 1097L381.8 1096L382.9 1095.1L384.1 1094.1L385.3 1093.2L386.5 1092.2L387.6 1091.3L388.8 1090.4L390 1089.4L391.2 1088.5L392.4 1087.6L393.6 1086.7L394.8 1085.8L396 1084.8L397.2 1083.9L398.5 1083L399.7 1082.1L400.9 1081.2L402.2 1080.3L403.4 1079.4L404.6 1078.5L405.9 1077.7L407.1 1076.8L408.4 1075.9L409.7 1075L410.9 1074.2L412.2 1073.3L413.5 1072.4L414.7 1071.6L416 1070.7L417.3 1069.8L418.6 1069L419.9 1068.1L421.2 1067.3L422.5 1066.5L423.8 1065.6L425.1 1064.8L426.4 1063.9L427.8 1063.1L429.1 1062.3L430.4 1061.5L431.8 1060.7L433.1 1059.8L434.4 1059L435.8 1058.2L437.2 1057.4L438.5 1056.6L439.9 1055.8L441.2 1055L442.6 1054.2L444 1053.4L445.4 1052.7L446.8 1051.9L448.1 1051.1L449.5 1050.3L450.9 1049.6L452.3 1048.8L453.7 1048L455.2 1047.3L456.6 1046.5L458 1045.8L459.4 1045L460.8 1044.3L462.3 1043.5L463.7 1042.8L465.2 1042L466.6 1041.3L468.1 1040.6L469.5 1039.8L471 1039.1L472.4 1038.4L473.9 1037.7L475.4 1037L476.9 1036.3L478.3 1035.6L479.8 1034.9L481.3 1034.2L482.8 1033.5L484.3 1032.8L485.8 1032.1L487.3 1031.4L488.8 1030.7L490.4 1030L491.9 1029.4L493.4 1028.7L494.9 1028L496.5 1027.3L498 1026.7L499.6 1026L501.1 1025.4L502.7 1024.7L504.2 1024.1L505.8 1023.4L507.4 1022.8L508.9 1022.1L510.5 1021.5L512.1 1020.9L513.7 1020.3L515.3 1019.6L516.8 1019L518.4 1018.4L520 1017.8L521.7 1017.2L523.3 1016.6L524.9 1016L526.5 1015.3L528.1 1014.8L529.8 1014.2L531.4 1013.6L533 1013L534.7 1012.4L536.3 1011.8L538 1011.2L539.6 1010.7L541.3 1010.1L542.9 1009.5L544.6 1009L546.3 1008.4L548 1007.8L549.6 1007.3L551.3 1006.7L553 1006.2L554.7 1005.7L556.4 1005.1L558.1 1004.6L559.8 1004.1L561.5 1003.5L563.3 1003L565 1002.5L566.7 1002L568.4 1001.4L570.2 1000.9L571.9 1000.4L573.7 999.9L575.4 999.4L577.2 998.9L578.9 998.4L580.7 997.9L582.4 997.4L584.2 997L586 996.5L587.8 996L589.6 995.5L591.3 995L593.1 994.6L594.9 994.1L596.7 993.7L598.5 993.2L600.3 992.7L602.2 992.3L604 991.8L605.8 991.4L607.6 991L609.5 990.5L611.3 990.1L613.1 989.7L615 989.2L616.8 988.8L618.7 988.4L620.6 988L622.4 987.6L624.3 987.2L626.2 986.7L628 986.3L629.9 985.9L631.8 985.6L633.7 985.2L635.6 984.8L637.5 984.4L639.4 984L641.3 983.6L643.2 983.2L645.1 982.9L647 982.5L649 982.1L650.9 981.8L652.8 981.4L654.8 981.1L656.7 980.7L658.7 980.4L660.6 980L662.6 979.7L664.5 979.3L666.5 979L668.5 978.7L670.4 978.4L672.4 978L674.4 977.7L676.4 977.4L678.4 977.1L680.4 976.8L682.4 976.5L684.4 976.2L686.4 975.9L688.4 975.6L690.4 975.3L692.5 975L694.5 974.7L696.5 974.4L698.6 974.1L700.6 973.9L702.6 973.6L704.7 973.3L706.7 973L708.8 972.8L710.9 972.5L712.9 972.3L715 972L717.1 971.8L719.2 971.5L721.2 971.3L723.3 971L725.4 970.8L727.5 970.6L729.6 970.4L731.7 970.1L733.9 969.9L736 969.7L738.1 969.5L740.2 969.3L742.3 969.1L744.5 968.9L746.6 968.7L748.8 968.5L750.9 968.3L753.1 968.1L755.2 967.9L757.4 967.7L759.5 967.5L761.7 967.3L763.9 967.2L766.1 967L768.2 966.8L770.4 966.7L772.6 966.5L774.8 966.4L777 966.2L779.2 966.1L781.4 965.9L783.6 965.8L785.9 965.6L788.1 965.5L790.3 965.4L792.5 965.2L794.8 965.1L797 965L799.3 964.9L801.5 964.8L803.8 964.7L806 964.5L808.3 964.4L810.6 964.3L812.8 964.2L815.1 964.1L817.4 964.1L819.7 964L822 963.9L824.3 963.8L826.6 963.7L828.9 963.7L831.2 963.6L833.5 963.5L835.8 963.5L838.1 963.4L840.4 963.3L842.8 963.3L845.1 963.2L847.4 963.2L849.8 963.2L852.1 963.1L854.5 963.1L856.8 963L859.2 963L861.6 963L863.9 963L866.3 963L868.7 962.9L871.1 962.9L873.4 962.9L875.8 962.9L878.2 962.9L880.6 962.9L883 962.9L885.4 962.9L887.9 962.9L890.3 963L892.7 963L895.1 963L897.5 963L900 963.1L902.4 963.1L904.9 963.1L907.3 963.2L909.8 963.2L912.2 963.3L914.7 963.3L917.2 963.4L919.6 963.4L922.1 963.5L924.6 963.5L927.1 963.6L929.6 963.7L932 963.8L934.5 963.8L937 963.9L939.6 964L942.1 964.1L944.6 964.2L947.1 964.3L949.6 964.4L952.2 964.5L954.7 964.6L957.2 964.7L959.8 964.8L962.3 964.9L964.9 965L967.4 965.2L970 965.3L972.5 965.4L975.1 965.5L977.7 965.7L980.3 965.8L982.8 966L985.4 966.1L988 966.3L990.6 966.4L993.2 966.6L995.8 966.7L998.4 966.9L1001 967.1L1003.6 967.2L1006.3 967.4L1008.9 967.6L1011.5 967.8L1014.2 968L1016.8 968.1L1019.4 968.3L1022.1 968.5L1024.7 968.7L1027.4 968.9L1030.1 969.1L1032.7 969.3L1035.4 969.6L1038.1 969.8L1040.8 970L1043.4 970.2L1046.1 970.4L1048.8 970.7L1051.5 970.9L1054.2 971.1L1056.9 971.4L1059.6 971.6L1062.3 971.9L1065.1 972.1L1067.8 972.4L1070.5 972.6L1073.2 972.9L1076 973.1L1078.7 973.4L1081.5 973.7L1084.2 974L1087 974.2L1089.7 974.5L1092.5 974.8L1095.3 975.1L1098 975.4L1100.8 975.7L1103.6 976L1106.4 976.3L1109.2 976.6L1112 976.9L1114.8 977.2L1117.6 977.5L1120.4 977.8L1123.2 978.1L1126 978.5L1128.8 978.8L1131.6 979.1L1134.5 979.5L1137.3 979.8L1140.2 980.1L1143 980.5L1145.8 980.8L1148.7 981.2L1151.5 981.6L1154.4 981.9L1157.3 982.3L1160.1 982.6L1163 983L1165.9 983.4L1168.8 983.8L1171.7 984.1L1174.6 984.5L1177.5 984.9L1180.4 985.3L1183.3 985.7L1186.2 986.1L1189.1 986.5L1192 986.9L1194.9 987.3L1197.9 987.7L1200.8 988.1L1203.7 988.5L1206.7 989L1209.6 989.4L1212.6 989.8L1215.5 990.2L1218.5 990.7L1221.4 991.1L1224.4 991.6L1227.4 992L1230.3 992.5L1233.3 992.9L1236.3 993.4L1239.3 993.8L1242.3 994.3L1245.3 994.7L1248.3 995.2L1251.3 995.7L1254.3 996.2L1257.3 996.6L1260.4 997.1L1263.4 997.6L1266.4 998.1L1269.4 998.6L1272.5 999.1L1275.5 999.6L1278.6 1000.1L1281.6 1000.6L1284.7 1001.1L1287.7 1001.6L1290.8 1002.1L1293.9 1002.7L1296.9 1003.2L1300 1003.7L1303.1 1004.2L1306.2 1004.8L1309.3 1005.3L1312.4 1005.9L1315.5 1006.4L1318.6 1006.9L1321.7 1007.5L1324.8 1008L1327.9 1008.6L1331 1009.2L1334.2 1009.7L1337.3 1010.3L1340.4 1010.9L1343.6 1011.4L1346.7 1012L1349.9 1012.6L1353 1013.2L1356.2 1013.8L1359.3 1014.4L1362.5 1015L1365.7 1015.6L1368.9 1016.2L1372 1016.8L1375.2 1017.4L1378.4 1018L1381.6 1018.6L1384.8 1019.2L1388 1019.8L1391.2 1020.5L1394.4 1021.1L1397.6 1021.7L1400.9 1022.4L1404.1 1023L1407.3 1023.7L1410.5 1024.3L1413.8 1025L1417 1025.6L1420.3 1026.3L1423.5 1026.9L1426.8 1027.6L1430 1028.3L1433.3 1028.9L1436.6 1029.6L1439.8 1030.3L1443.1 1031L1446.4 1031.6L1449.7 1032.3L1453 1033L1456.3 1033.7L1459.6 1034.4L1462.9 1035.1L1466.2 1035.8L1469.5 1036.5L1472.8 1037.2L1476.1 1037.9L1479.5 1038.7L1482.8 1039.4L1486.1 1040.1L1489.5 1040.8L1492.8 1041.6L1496.2 1042.3L1499.5 1043L1502.9 1043.8L1506.2 1044.5L1509.6 1045.3L1513 1046L1516.3 1046.8L1519.7 1047.5L1523.1 1048.3L1526.5 1049.1L1529.9 1049.8L1533.3 1050.6L1536.7 1051.4L1540.1 1052.2L1543.5 1052.9L1546.9 1053.7L1550.3 1054.5L1553.8 1055.3L1557.2 1056.1L1560.6 1056.9L1564.1 1057.7L1567.5 1058.5L1570.9 1059.3L1574.4 1060.1L1577.8 1060.9L1581.3 1061.8L1584.8 1062.6L1588.2 1063.4L1591.7 1064.2L1595.2 1065.1L1598.7 1065.9L1602.1 1066.8L1605.6 1067.6L1609.1 1068.4L1612.6 1069.3L1616.1 1070.1L1619.6 1071L1623.2 1071.9L1626.7 1072.7L1630.2 1073.6L1633.7 1074.5L1637.3 1075.3L1640.8 1076.2L1644.3 1077.1L1647.9 1078L1651.4 1078.9L1655 1079.8L1658.5 1080.6L1662.1 1081.5L1665.6 1082.4L1669.2 1083.4L1672.8 1084.3L1676.4 1085.2L1680 1086.1L1683.5 1087L1687.1 1087.9L1690.7 1088.8L1694.3 1089.8L1697.9 1090.7L1701.5 1091.6L1705.2 1092.6L1708.8 1093.5L1712.4 1094.5L1716 1095.4L1719.7 1096.4L1723.3 1097.3L1726.9 1098.3L1730.6 1099.2L1734.2 1100.2L1737.9 1101.2" stroke-dashoffset="11.3"/>
<path d="M1895.4 1144.8L1899.2 1146L1903.1 1147.1L1906.9 1148.2L1910.8 1149.3L1914.6 1150.4L1918.5 1151.6L1922.4 1152.7L1926.2 1153.8L1930.1 1155L1934 1156.1L1937.9 1157.3L1941.8 1158.4L1945.7 1159.6L1949.6 1160.7L1953.5 1161.9L1957.4 1163L1961.3 1164.2L1965.2 1165.4L1969.2 1166.5L1973.1 1167.7L1977 1168.9L1981 1170.1L1984.9 1171.3L1988.9 1172.5L1992.8 1173.6L1996.8 1174.8L2000.7 1176L2004.7 1177.2L2008.7 1178.4L2012.6 1179.7" stroke-dashoffset="25.6"/>
</g>
</g>
<g font-family="Liberation Serif, serif" font-size="62" fill="#000" text-anchor="middle" dominant-baseline="central">
<text transform="translate(534.7 1401.4) rotate(15.9)">0.075</text>
<text transform="translate(873.4 1387.5) rotate(17.9)">0.100</text>
<text transform="translate(1391.2 1400) rotate(19.5)">0.125</text>
<text transform="translate(1756.2 1323.6) rotate(18.6)">0.150</text>
<text transform="translate(1815.6 1122.3) rotate(15.5)">0.175</text>
<text transform="translate(1906.9 918.1) rotate(12.7)">0.200</text>
<text transform="translate(1861 678.1) rotate(8.5)">0.225</text>
<text transform="translate(942.1 507.1) rotate(-16.1)">0.250</text>
<text transform="translate(696.4 482.7) rotate(-33)">0.275</text>
<text transform="translate(589.6 454.3) rotate(-44.6)">0.300</text>
<text transform="translate(510.6 445.5) rotate(-54)">0.325</text>
<text transform="translate(396.9 558.3) rotate(-65.5)">0.350</text>
</g>
<rect x="285" y="666" width="61" height="148" fill="#fff"/>
<rect x="398.5" y="770" width="61" height="148" fill="#fff"/>
<rect x="552" y="1041.5" width="61" height="148" fill="#fff"/>
<rect x="747" y="1074" width="61" height="148" fill="#fff"/>
<rect x="985.5" y="1003" width="61" height="148" fill="#fff"/>
<rect x="1276.5" y="1018" width="61" height="148" fill="#fff"/>
<rect x="1593.5" y="1103" width="61" height="148" fill="#fff"/>
<rect x="1945.1" y="1224" width="61" height="148" fill="#fff"/>
<g font-family="Liberation Serif, serif" font-size="65" fill="#000" text-anchor="middle" dominant-baseline="central">
<text transform="translate(313.5 740) rotate(-90)">10Hz</text>
<text transform="translate(427 844) rotate(-90)">15Hz</text>
<text transform="translate(580.5 1115.5) rotate(-90)">20Hz</text>
<text transform="translate(775.5 1148) rotate(-90)">25Hz</text>
<text transform="translate(1014 1077) rotate(-90)">30Hz</text>
<text transform="translate(1305 1092) rotate(-90)">35Hz</text>
<text transform="translate(1622 1177) rotate(-90)">40Hz</text>
<text transform="translate(1973.6 1298) rotate(-90)">45Hz</text>
</g>
<g stroke="#262626" stroke-width="3" fill="none">
<rect x="222.0" y="43.5" width="1793.7" height="1417.8"/>
<path d="M385 1461.3V1442.3M548.1 1461.3V1442.3M711.1 1461.3V1442.3M874.2 1461.3V1442.3M1037.2 1461.3V1442.3M1200.2 1461.3V1442.3M1363.3 1461.3V1442.3M1526.3 1461.3V1442.3M1689.4 1461.3V1442.3M1852.4 1461.3V1442.3M222 1461.3H241M222 1225.1H241M222 988.9H241M222 752.7H241M222 516.5H241M222 280.3H241M222 44.1H241"/>
</g>
<g font-family="Liberation Serif, serif" font-size="64" fill="#444" text-anchor="middle">
<text x="388" y="1548.3">100</text>
<text x="551.1" y="1548.3">200</text>
<text x="714.1" y="1548.3">300</text>
<text x="877.2" y="1548.3">400</text>
<text x="1040.2" y="1548.3">500</text>
<text x="1203.2" y="1548.3">600</text>
<text x="1366.3" y="1548.3">700</text>
<text x="1529.3" y="1548.3">800</text>
<text x="1692.4" y="1548.3">900</text>
<text x="1855.4" y="1548.3">1000</text>
<text x="2018.4" y="1548.3">1100</text>
</g>
<g font-family="Liberation Serif, serif" font-size="64" fill="#444" text-anchor="end">
<text x="208.5" y="1482.8">0</text>
<text x="213.5" y="1246.6">0.2</text>
<text x="213.5" y="1010.4">0.4</text>
<text x="213.5" y="774.2">0.6</text>
<text x="213.5" y="538">0.8</text>
<text x="204" y="301.8">1</text>
<text x="213.5" y="65.6">1.2</text>
</g>
<text font-family="Liberation Serif, serif" font-size="65" x="817" y="1629" textLength="710" lengthAdjust="spacingAndGlyphs">Voltage integral coefficient</text>
<text font-family="Liberation Serif, serif" font-size="66" transform="translate(82.5 1171.6) rotate(-90)" textLength="841" lengthAdjust="spacingAndGlyphs">Voltage proportional coefficient</text>
<path d="M540.5 174L422.2 255.8" stroke="#ff0000" stroke-width="5" stroke-dasharray="15 14" stroke-linecap="round" fill="none"/>
<path d="M402.5 269.5L417.5 238.4L423.5 255L436.8 266.4Z" fill="#ff0000"/>
<path d="M1104.5 837.4L1045.7 931.1" stroke="#ff0000" stroke-width="5" stroke-dasharray="15 14" stroke-linecap="round" fill="none"/>
<path d="M1032.9 951.4L1034.5 917L1046.5 929.8L1063.3 935Z" fill="#ff0000"/>
<path d="M1088.4 1148.7L1030.2 1242.5" stroke="#ff0000" stroke-width="5" stroke-dasharray="15 14" stroke-linecap="round" fill="none"/>
<path d="M1017.5 1262.9L1018.9 1228.4L1031 1241.2L1047.8 1246.4Z" fill="#ff0000"/>
<path d="M1408.8 1253L1051.6 1393.4" stroke="#ff0000" stroke-width="5" stroke-dasharray="15 14" stroke-linecap="round" fill="none"/>
<path d="M1029.3 1402.2L1051 1375.4L1053 1392.9L1063.4 1407Z" fill="#ff0000"/>
<rect x="542.2" y="54.2" width="584.8" height="238.8" fill="#fff"/>
<path d="M542.2 54.2L834.6 54.2M1127 54.2L834.6 54.2M542.2 293L834.6 293M1127 293L834.6 293M542.2 54.2L542.2 173.6M542.2 293L542.2 173.6M1127 54.2L1127 173.6M1127 293L1127 173.6" fill="none" stroke="#ff0000" stroke-width="6" stroke-dasharray="14.8 14.1" stroke-dashoffset="7.4" stroke-linecap="round"/>
<rect x="1104.5" y="671.6" width="404.1" height="165.8" fill="#fff"/>
<path d="M1104.5 671.6L1306.5 671.6M1508.6 671.6L1306.5 671.6M1104.5 837.4L1306.5 837.4M1508.6 837.4L1306.5 837.4M1104.5 671.6L1104.5 754.5M1104.5 837.4L1104.5 754.5M1508.6 671.6L1508.6 754.5M1508.6 837.4L1508.6 754.5" fill="none" stroke="#ff0000" stroke-width="6" stroke-dasharray="14.8 14.1" stroke-dashoffset="7.4" stroke-linecap="round"/>
<rect x="1088.4" y="982.8" width="402.5" height="165.9" fill="#fff"/>
<path d="M1088.4 982.8L1289.7 982.8M1490.9 982.8L1289.7 982.8M1088.4 1148.7L1289.7 1148.7M1490.9 1148.7L1289.7 1148.7M1088.4 982.8L1088.4 1065.8M1088.4 1148.7L1088.4 1065.8M1490.9 982.8L1490.9 1065.8M1490.9 1148.7L1490.9 1065.8" fill="none" stroke="#ff0000" stroke-width="6" stroke-dasharray="14.8 14.1" stroke-dashoffset="7.4" stroke-linecap="round"/>
<rect x="1408.8" y="1170.2" width="402.2" height="164.7" fill="#fff"/>
<path d="M1408.8 1170.2L1609.9 1170.2M1811 1170.2L1609.9 1170.2M1408.8 1334.9L1609.9 1334.9M1811 1334.9L1609.9 1334.9M1408.8 1170.2L1408.8 1252.6M1408.8 1334.9L1408.8 1252.6M1811 1170.2L1811 1252.6M1811 1334.9L1811 1252.6" fill="none" stroke="#ff0000" stroke-width="6" stroke-dasharray="14.8 14.1" stroke-dashoffset="7.4" stroke-linecap="round"/>
<g font-family="Liberation Serif, serif" font-size="64" fill="#000">
<text x="577.5" y="118.5" textLength="521" lengthAdjust="spacingAndGlyphs">Group 1 parameters</text>
<text x="563" y="195.5"><tspan font-style="italic">f</tspan>s = 495 Hz</text>
<text x="568" y="275.4"><tspan font-style="italic">&#950;</tspan>s = -0.001</text>
<text x="1307.3" y="737.4" text-anchor="middle">Group 3</text>
<text x="1308.7" y="815.5" text-anchor="middle" font-size="65">(491, 0.418)</text>
<text x="1291.6" y="1048" text-anchor="middle">Group 5</text>
<text x="1292.9" y="1127.8" text-anchor="middle" font-size="65">(481, 0.159)</text>
<text x="1612.4" y="1234" text-anchor="middle">Group 6</text>
<text x="1612.4" y="1313" text-anchor="middle" font-size="65">(481, 0.029)</text>
</g>
<circle cx="386" cy="280.1" r="20" fill="#ff0000"/>
<circle cx="1023.8" cy="966.9" r="19.5" fill="#ff0000"/>
<circle cx="1008.3" cy="1276.5" r="19.5" fill="#ff0000"/>
<circle cx="999.9" cy="1425.3" r="19.5" fill="#ff0000"/>
<rect x="1205.9" y="252.5" width="792.7" height="175.5" fill="none" stroke="#000" stroke-width="2.6" stroke-dasharray="20 12"/>
<path d="M1211.8 291.3H1412" stroke="#000" stroke-width="8.6" stroke-linecap="round"/>
<path d="M1211.8 373.4H1285M1328.7 373.4H1404" stroke="#000" stroke-width="8.6" stroke-linecap="round"/>
<g font-family="Liberation Serif, serif" fill="#000">
<text x="1227.7" y="147.5" font-size="61" font-weight="bold" textLength="729.3" lengthAdjust="spacing">High-frequency oscillation</text>
<text x="1344.6" y="224.8" font-size="61" font-weight="bold" textLength="497.4" lengthAdjust="spacing">instability domain</text>
<text x="1421.9" y="312" font-size="62" textLength="551" lengthAdjust="spacing">Oscillation frequency</text>
<text x="1416" y="397" font-size="62" textLength="368.6" lengthAdjust="spacingAndGlyphs">Damping factor</text>
</g>
</svg>
</body></html>
